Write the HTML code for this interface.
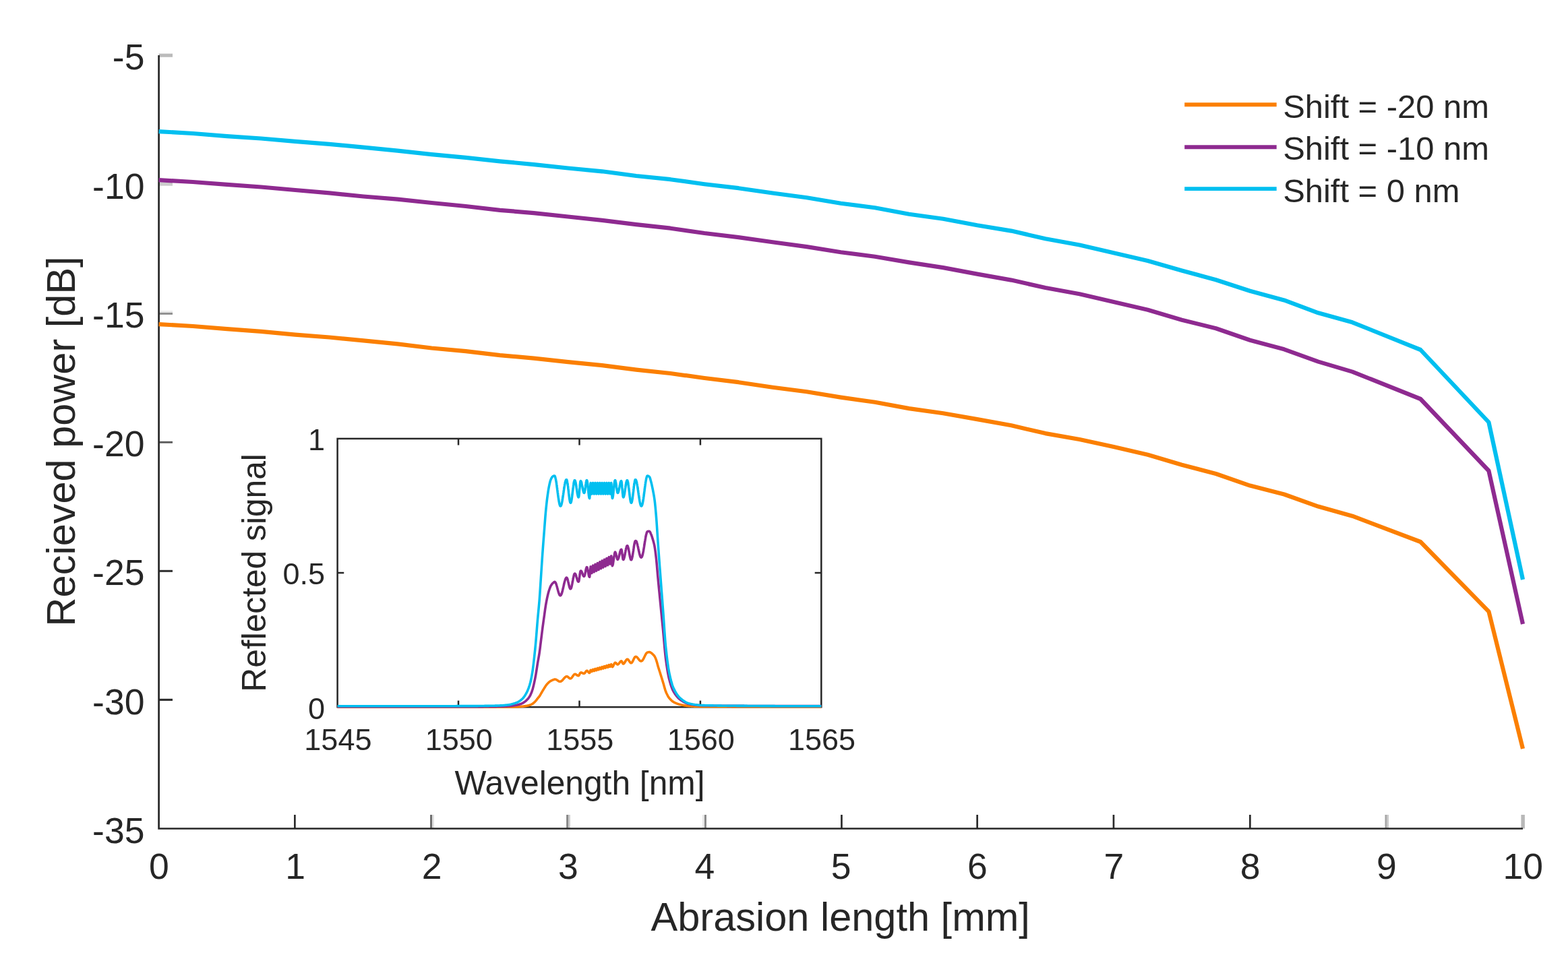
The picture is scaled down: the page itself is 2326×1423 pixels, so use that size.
<!DOCTYPE html>
<html><head><meta charset="utf-8"><title>Recieved power vs abrasion length</title>
<style>html,body{margin:0;padding:0;background:#fff;}svg{display:block;}</style>
</head><body>
<svg width="2326" height="1423" viewBox="0 0 2326 1423" font-family="'Liberation Sans', sans-serif">
<rect width="2326" height="1423" fill="#ffffff"/>
<rect x="436.0" y="1209.0" width="2.7" height="20.5" fill="#2b2b2b"/>
<rect x="638.0" y="1209.0" width="3.0" height="20.5" fill="#707070"/>
<rect x="641.0" y="1209.0" width="2.9" height="20.5" fill="#e0e0e0"/>
<rect x="840.1" y="1209.0" width="2.9" height="20.5" fill="#888888"/>
<rect x="843.0" y="1209.0" width="2.9" height="20.5" fill="#cccccc"/>
<rect x="1042.0" y="1209.0" width="3.0" height="20.5" fill="#e6e6e6"/>
<rect x="1045.0" y="1209.0" width="2.9" height="20.5" fill="#888888"/>
<rect x="1247.1" y="1209.0" width="2.7" height="20.5" fill="#2b2b2b"/>
<rect x="1448.3" y="1209.0" width="2.7" height="20.5" fill="#2b2b2b"/>
<rect x="1650.6" y="1209.0" width="2.7" height="20.5" fill="#2b2b2b"/>
<rect x="1853.0" y="1209.0" width="2.7" height="20.5" fill="#2b2b2b"/>
<rect x="2054.5" y="1209.0" width="2.7" height="20.5" fill="#a5a5a5"/>
<rect x="2057.2" y="1209.0" width="2.7" height="20.5" fill="#c5c5c5"/>
<rect x="2256.4" y="1209.0" width="5.5" height="20.5" fill="#b8b8b8"/>
<rect x="235.6" y="79.6" width="20.4" height="5.1" fill="#bbbbbb"/>
<rect x="235.6" y="270.4" width="20.4" height="5.3" fill="#cccccc"/>
<rect x="235.6" y="461.0" width="20.4" height="2.9" fill="#ebebeb"/>
<rect x="235.6" y="463.9" width="20.4" height="3.0" fill="#909090"/>
<rect x="235.6" y="654.8" width="20.4" height="2.9" fill="#5a5a5a"/>
<rect x="235.6" y="845.8" width="20.4" height="3.0" fill="#2e2e2e"/>
<rect x="235.6" y="1036.8" width="20.4" height="3.1" fill="#2a2a2a"/>
<path d="M235.6,82.1 L235.6,1229.5 L2259.0,1229.5" fill="none" stroke="#262626" stroke-width="2.7" stroke-linecap="butt" stroke-linejoin="miter"/>
<g fill="#262626" font-size="53.5" text-anchor="middle">
<text x="235.9" y="1303.8">0</text>
<text x="438.2" y="1303.8">1</text>
<text x="640.6" y="1303.8">2</text>
<text x="842.9" y="1303.8">3</text>
<text x="1045.3" y="1303.8">4</text>
<text x="1247.6" y="1303.8">5</text>
<text x="1449.9" y="1303.8">6</text>
<text x="1652.3" y="1303.8">7</text>
<text x="1854.6" y="1303.8">8</text>
<text x="2057.0" y="1303.8">9</text>
<text x="2259.3" y="1303.8">10</text>
</g>
<g fill="#262626" font-size="53.5" text-anchor="end">
<text x="214.4" y="1250.8">-35</text>
<text x="214.4" y="1059.6">-30</text>
<text x="214.4" y="868.3">-25</text>
<text x="214.4" y="677.1">-20</text>
<text x="214.4" y="485.9">-15</text>
<text x="214.4" y="294.6">-10</text>
<text x="214.4" y="103.4">-5</text>
</g>
<text x="1246.7" y="1380.5" fill="#262626" font-size="59.5" text-anchor="middle">Abrasion length [mm]</text>
<text transform="translate(110.6,654.9) rotate(-90)" fill="#262626" font-size="59.5" text-anchor="middle">Recieved power [dB]</text>
<g fill="none" stroke-width="6.2" stroke-linejoin="round" stroke-linecap="butt">
<polyline points="235.6,481.1 286.2,484.0 336.8,488.2 387.4,491.8 437.9,496.6 488.5,500.5 539.1,505.4 589.7,510.4 640.3,516.5 690.9,521.2 741.5,527.1 792.0,531.6 842.6,537.1 893.2,542.1 943.8,548.6 994.4,554.0 1045.0,561.0 1095.5,567.2 1146.1,574.8 1196.7,581.3 1247.3,589.6 1297.9,596.8 1348.5,606.1 1399.1,613.2 1449.6,622.1 1500.2,631.3 1550.8,643.1 1601.4,652.0 1652.0,663.0 1702.6,674.8 1753.1,689.7 1803.7,703.0 1854.3,720.6 1904.9,733.5 1955.5,751.6 2006.1,765.7 2107.2,804.0 2208.4,907.3 2259.0,1111.0" stroke="#FB7F00"/>
<polyline points="235.6,267.2 286.2,270.0 336.8,273.8 387.4,277.5 437.9,282.0 488.5,286.4 539.1,291.5 589.7,295.6 640.3,301.0 690.9,306.0 741.5,311.8 792.0,316.1 842.6,321.5 893.2,326.8 943.8,333.2 994.4,338.7 1045.0,346.0 1095.5,352.1 1146.1,359.3 1196.7,366.1 1247.3,374.2 1297.9,380.7 1348.5,389.4 1399.1,397.1 1449.6,406.6 1500.2,415.6 1550.8,427.0 1601.4,436.2 1652.0,448.0 1702.6,459.8 1753.1,474.7 1803.7,487.3 1854.3,504.8 1904.9,518.3 1955.5,536.6 2006.1,551.6 2107.2,592.0 2208.4,698.5 2259.0,926.0" stroke="#8E2A90"/>
<polyline points="235.6,195.1 286.2,198.0 336.8,202.1 387.4,205.5 437.9,209.9 488.5,213.8 539.1,218.7 589.7,223.6 640.3,229.1 690.9,233.9 741.5,239.3 792.0,244.1 842.6,249.5 893.2,254.3 943.8,261.0 994.4,266.2 1045.0,273.2 1095.5,279.2 1146.1,286.5 1196.7,293.2 1247.3,301.8 1297.9,308.3 1348.5,317.7 1399.1,324.7 1449.6,334.3 1500.2,342.6 1550.8,354.2 1601.4,363.5 1652.0,375.2 1702.6,387.0 1753.1,401.6 1803.7,415.2 1854.3,431.7 1904.9,445.4 1955.5,464.3 2006.1,478.3 2107.2,519.0 2208.4,626.5 2259.0,860.0" stroke="#00BFF0"/>
</g>
<line x1="1757.2" y1="155.2" x2="1893.7" y2="155.2" stroke="#FB7F00" stroke-width="5.9"/>
<line x1="1757.2" y1="218.2" x2="1893.7" y2="218.2" stroke="#8E2A90" stroke-width="5.9"/>
<line x1="1757.2" y1="280.1" x2="1893.7" y2="280.1" stroke="#00BFF0" stroke-width="5.9"/>
<g fill="#262626" font-size="48.9">
<text x="1903.2" y="174.8">Shift = -20 nm</text>
<text x="1903.2" y="237.2">Shift = -10 nm</text>
<text x="1903.2" y="299.5">Shift = 0 nm</text>
</g>
<rect x="500.6" y="650.9" width="717.7" height="398.3" fill="#ffffff"/>
<line x1="680.0" y1="1049.2" x2="680.0" y2="1039.6" stroke="#262626" stroke-width="2.5"/>
<line x1="680.0" y1="650.9" x2="680.0" y2="660.5" stroke="#262626" stroke-width="2.5"/>
<line x1="859.5" y1="1049.2" x2="859.5" y2="1039.6" stroke="#262626" stroke-width="2.5"/>
<line x1="859.5" y1="650.9" x2="859.5" y2="660.5" stroke="#262626" stroke-width="2.5"/>
<line x1="1038.9" y1="1049.2" x2="1038.9" y2="1039.6" stroke="#262626" stroke-width="2.5"/>
<line x1="1038.9" y1="650.9" x2="1038.9" y2="660.5" stroke="#262626" stroke-width="2.5"/>
<line x1="500.6" y1="850.0" x2="510.2" y2="850.0" stroke="#262626" stroke-width="2.5"/>
<line x1="1218.3" y1="850.0" x2="1208.7" y2="850.0" stroke="#262626" stroke-width="2.5"/>
<rect x="500.6" y="650.9" width="717.7" height="398.3" fill="none" stroke="#262626" stroke-width="2.5"/>
<g fill="none" stroke-width="3.6" stroke-linejoin="round">
<path d="M500.6,1049.0 L501.1,1049.0 L501.6,1049.0 L502.1,1049.0 L502.6,1049.0 L503.1,1049.0 L503.6,1049.0 L504.1,1049.0 L504.6,1049.0 L505.1,1049.0 L505.6,1049.0 L506.1,1049.0 L506.6,1049.0 L507.1,1049.0 L507.6,1049.0 L508.1,1049.0 L508.6,1049.0 L509.1,1049.0 L509.6,1049.0 L510.1,1049.0 L510.6,1049.0 L511.1,1049.0 L511.6,1049.0 L512.1,1049.0 L512.6,1049.0 L513.1,1049.0 L513.6,1049.0 L514.1,1049.0 L514.6,1049.0 L515.1,1049.0 L515.6,1049.0 L516.1,1049.0 L516.6,1049.0 L517.1,1049.0 L517.6,1049.0 L518.1,1049.0 L518.6,1049.0 L519.1,1049.0 L519.6,1049.0 L520.1,1049.0 L520.6,1049.0 L521.1,1049.0 L521.6,1049.0 L522.1,1049.0 L522.6,1049.0 L523.1,1049.0 L523.6,1049.0 L524.1,1049.0 L524.6,1049.0 L525.1,1049.0 L525.6,1049.0 L526.1,1049.0 L526.6,1049.0 L527.1,1049.0 L527.6,1049.0 L528.1,1049.0 L528.6,1049.0 L529.1,1049.0 L529.6,1049.0 L530.1,1049.0 L530.6,1049.0 L531.1,1049.0 L531.6,1049.0 L532.1,1049.0 L532.6,1049.0 L533.1,1049.0 L533.6,1049.0 L534.1,1049.0 L534.6,1049.0 L535.1,1049.0 L535.6,1049.0 L536.1,1049.0 L536.6,1049.0 L537.1,1049.0 L537.6,1049.0 L538.1,1049.0 L538.6,1049.0 L539.1,1049.0 L539.6,1049.0 L540.1,1049.0 L540.6,1049.0 L541.1,1049.0 L541.6,1049.0 L542.1,1049.0 L542.6,1049.0 L543.1,1049.0 L543.6,1049.0 L544.1,1049.0 L544.6,1049.0 L545.1,1049.0 L545.6,1049.0 L546.1,1049.0 L546.6,1049.0 L547.1,1049.0 L547.6,1049.0 L548.1,1049.0 L548.6,1049.0 L549.1,1049.0 L549.6,1049.0 L550.1,1049.0 L550.6,1049.0 L551.1,1049.0 L551.6,1049.0 L552.1,1049.0 L552.6,1049.0 L553.1,1049.0 L553.6,1049.0 L554.1,1049.0 L554.6,1049.0 L555.1,1049.0 L555.6,1049.0 L556.1,1049.0 L556.6,1049.0 L557.1,1049.0 L557.6,1049.0 L558.1,1049.0 L558.6,1049.0 L559.1,1049.0 L559.6,1049.0 L560.1,1049.0 L560.6,1049.0 L561.1,1049.0 L561.6,1049.0 L562.1,1049.0 L562.6,1049.0 L563.1,1049.0 L563.6,1049.0 L564.1,1049.0 L564.6,1049.0 L565.1,1049.0 L565.6,1049.0 L566.1,1049.0 L566.6,1049.0 L567.1,1049.0 L567.6,1049.0 L568.1,1049.0 L568.6,1049.0 L569.1,1049.0 L569.6,1049.0 L570.1,1049.0 L570.6,1049.0 L571.1,1049.0 L571.6,1049.0 L572.1,1049.0 L572.6,1049.0 L573.1,1049.0 L573.6,1049.0 L574.1,1049.0 L574.6,1049.0 L575.1,1049.0 L575.6,1049.0 L576.1,1049.0 L576.6,1049.0 L577.1,1049.0 L577.6,1049.0 L578.1,1049.0 L578.6,1049.0 L579.1,1049.0 L579.6,1049.0 L580.1,1049.0 L580.6,1049.0 L581.1,1049.0 L581.6,1049.0 L582.1,1049.0 L582.6,1049.0 L583.1,1049.0 L583.6,1049.0 L584.1,1049.0 L584.6,1049.0 L585.1,1049.0 L585.6,1049.0 L586.1,1049.0 L586.6,1049.0 L587.1,1049.0 L587.6,1049.0 L588.1,1049.0 L588.6,1049.0 L589.1,1049.0 L589.6,1049.0 L590.1,1049.0 L590.6,1049.0 L591.1,1049.0 L591.6,1049.0 L592.1,1049.0 L592.6,1049.0 L593.1,1049.0 L593.6,1049.0 L594.1,1049.0 L594.6,1049.0 L595.1,1049.0 L595.6,1049.0 L596.1,1049.0 L596.6,1049.0 L597.1,1049.0 L597.6,1049.0 L598.1,1049.0 L598.6,1049.0 L599.1,1049.0 L599.6,1049.0 L600.1,1049.0 L600.6,1049.0 L601.1,1049.0 L601.6,1049.0 L602.1,1049.0 L602.6,1049.0 L603.1,1049.0 L603.6,1049.0 L604.1,1049.0 L604.6,1049.0 L605.1,1049.0 L605.6,1049.0 L606.1,1049.0 L606.6,1049.0 L607.1,1049.0 L607.6,1049.0 L608.1,1049.0 L608.6,1049.0 L609.1,1049.0 L609.6,1049.0 L610.1,1049.0 L610.6,1049.0 L611.1,1049.0 L611.6,1049.0 L612.1,1049.0 L612.6,1049.0 L613.1,1049.0 L613.6,1049.0 L614.1,1049.0 L614.6,1049.0 L615.1,1049.0 L615.6,1049.0 L616.1,1049.0 L616.6,1049.0 L617.1,1049.0 L617.6,1049.0 L618.1,1049.0 L618.6,1049.0 L619.1,1049.0 L619.6,1049.0 L620.1,1049.0 L620.6,1049.0 L621.1,1049.0 L621.6,1049.0 L622.1,1049.0 L622.6,1049.0 L623.1,1049.0 L623.6,1049.0 L624.1,1049.0 L624.6,1049.0 L625.1,1049.0 L625.6,1049.0 L626.1,1049.0 L626.6,1049.0 L627.1,1049.0 L627.6,1049.0 L628.1,1049.0 L628.6,1049.0 L629.1,1049.0 L629.6,1049.0 L630.1,1049.0 L630.6,1049.0 L631.1,1049.0 L631.6,1049.0 L632.1,1049.0 L632.6,1049.0 L633.1,1049.0 L633.6,1049.0 L634.1,1049.0 L634.6,1049.0 L635.1,1049.0 L635.6,1049.0 L636.1,1049.0 L636.6,1049.0 L637.1,1049.0 L637.6,1049.0 L638.1,1049.0 L638.6,1049.0 L639.1,1049.0 L639.6,1049.0 L640.1,1049.0 L640.6,1049.0 L641.1,1049.0 L641.6,1049.0 L642.1,1049.0 L642.6,1049.0 L643.1,1049.0 L643.6,1049.0 L644.1,1049.0 L644.6,1049.0 L645.1,1049.0 L645.6,1049.0 L646.1,1049.0 L646.6,1049.0 L647.1,1049.0 L647.6,1049.0 L648.1,1049.0 L648.6,1049.0 L649.1,1049.0 L649.6,1049.0 L650.1,1049.0 L650.6,1049.0 L651.1,1049.0 L651.6,1049.0 L652.1,1049.0 L652.6,1049.0 L653.1,1049.0 L653.6,1049.0 L654.1,1049.0 L654.6,1049.0 L655.1,1049.0 L655.6,1049.0 L656.1,1049.0 L656.6,1049.0 L657.1,1049.0 L657.6,1049.0 L658.1,1049.0 L658.6,1049.0 L659.1,1049.0 L659.6,1049.0 L660.1,1049.0 L660.6,1049.0 L661.1,1049.0 L661.6,1049.0 L662.1,1049.0 L662.6,1049.0 L663.1,1049.0 L663.6,1049.0 L664.1,1049.0 L664.6,1049.0 L665.1,1049.0 L665.6,1049.0 L666.1,1049.0 L666.6,1049.0 L667.1,1049.0 L667.6,1049.0 L668.1,1049.0 L668.6,1049.0 L669.1,1049.0 L669.6,1049.0 L670.1,1049.0 L670.6,1049.0 L671.1,1049.0 L671.6,1049.0 L672.1,1049.0 L672.6,1049.0 L673.1,1049.0 L673.6,1049.0 L674.1,1049.0 L674.6,1049.0 L675.1,1049.0 L675.6,1049.0 L676.1,1049.0 L676.6,1049.0 L677.1,1049.0 L677.6,1049.0 L678.1,1049.0 L678.6,1049.0 L679.1,1049.0 L679.6,1049.0 L680.1,1049.0 L680.6,1049.0 L681.1,1049.0 L681.6,1049.0 L682.1,1049.0 L682.6,1049.0 L683.1,1049.0 L683.6,1049.0 L684.1,1049.0 L684.6,1049.0 L685.1,1049.0 L685.6,1049.0 L686.1,1049.0 L686.6,1049.0 L687.1,1049.0 L687.6,1049.0 L688.1,1049.0 L688.6,1049.0 L689.1,1049.0 L689.6,1049.0 L690.1,1049.0 L690.6,1049.0 L691.1,1049.0 L691.6,1049.0 L692.1,1049.0 L692.6,1049.0 L693.1,1049.0 L693.6,1049.0 L694.1,1049.0 L694.6,1049.0 L695.1,1049.0 L695.6,1049.0 L696.1,1049.0 L696.6,1049.0 L697.1,1049.0 L697.6,1049.0 L698.1,1049.0 L698.6,1049.0 L699.1,1049.0 L699.6,1049.0 L700.1,1049.0 L700.6,1049.0 L701.1,1049.0 L701.6,1049.0 L702.1,1049.0 L702.6,1049.0 L703.1,1049.0 L703.6,1049.0 L704.1,1049.0 L704.6,1049.0 L705.1,1049.0 L705.6,1049.0 L706.1,1049.0 L706.6,1049.0 L707.1,1049.0 L707.6,1049.0 L708.1,1049.0 L708.6,1049.0 L709.1,1049.0 L709.6,1049.0 L710.1,1049.0 L710.6,1049.0 L711.1,1049.0 L711.6,1049.0 L712.1,1049.0 L712.6,1049.0 L713.1,1049.0 L713.6,1049.0 L714.1,1049.0 L714.6,1049.0 L715.1,1049.0 L715.6,1049.0 L716.1,1049.0 L716.6,1049.0 L717.1,1049.0 L717.6,1049.0 L718.1,1049.0 L718.6,1049.0 L719.1,1049.0 L719.6,1049.0 L720.1,1049.0 L720.6,1049.0 L721.1,1049.0 L721.6,1049.0 L722.1,1049.0 L722.6,1049.0 L723.1,1049.0 L723.6,1049.0 L724.1,1049.0 L724.6,1049.0 L725.1,1049.0 L725.6,1049.0 L726.1,1049.0 L726.6,1049.0 L727.1,1049.0 L727.6,1049.0 L728.1,1049.0 L728.6,1049.0 L729.1,1049.0 L729.6,1049.0 L730.1,1049.0 L730.6,1049.0 L731.1,1049.0 L731.6,1049.0 L732.1,1049.0 L732.6,1049.0 L733.1,1049.0 L733.6,1049.0 L734.1,1049.0 L734.6,1049.0 L735.1,1049.0 L735.6,1049.0 L736.1,1049.0 L736.6,1049.0 L737.1,1049.0 L737.6,1049.0 L738.1,1049.0 L738.6,1049.0 L739.1,1049.0 L739.6,1049.0 L740.1,1049.0 L740.6,1049.0 L741.1,1049.0 L741.6,1049.0 L742.1,1049.0 L742.6,1049.0 L743.1,1049.0 L743.6,1049.0 L744.1,1049.0 L744.6,1049.0 L745.1,1049.0 L745.6,1049.0 L746.1,1049.0 L746.6,1049.0 L747.1,1049.0 L747.6,1049.0 L748.1,1049.0 L748.6,1049.0 L749.1,1049.0 L749.6,1049.0 L750.1,1049.0 L750.6,1049.0 L751.1,1049.0 L751.6,1049.0 L752.1,1049.0 L752.6,1049.0 L753.1,1049.0 L753.6,1049.0 L754.1,1049.0 L754.6,1049.0 L755.1,1049.0 L755.6,1049.0 L756.1,1049.0 L756.6,1049.0 L757.1,1049.0 L757.6,1048.9 L758.1,1048.9 L758.6,1048.9 L759.1,1048.9 L759.6,1048.9 L760.1,1048.9 L760.6,1048.9 L761.1,1048.9 L761.6,1048.9 L762.1,1048.8 L762.6,1048.8 L763.1,1048.8 L763.6,1048.8 L764.1,1048.8 L764.6,1048.8 L765.1,1048.8 L765.6,1048.7 L766.1,1048.7 L766.6,1048.7 L767.1,1048.7 L767.6,1048.7 L768.1,1048.7 L768.6,1048.6 L769.1,1048.6 L769.6,1048.6 L770.1,1048.6 L770.6,1048.5 L771.1,1048.5 L771.6,1048.5 L772.1,1048.4 L772.6,1048.4 L773.1,1048.4 L773.6,1048.3 L774.1,1048.3 L774.6,1048.3 L775.1,1048.2 L775.6,1048.2 L776.1,1048.1 L776.6,1048.1 L777.1,1048.0 L777.6,1047.9 L778.1,1047.9 L778.6,1047.8 L779.1,1047.7 L779.6,1047.6 L780.1,1047.6 L780.6,1047.5 L781.1,1047.4 L781.6,1047.3 L782.1,1047.2 L782.6,1047.1 L783.1,1047.0 L783.6,1046.9 L784.1,1046.8 L784.6,1046.6 L785.1,1046.5 L785.6,1046.3 L786.1,1046.2 L786.6,1046.0 L787.1,1045.8 L787.6,1045.6 L788.1,1045.3 L788.6,1045.1 L789.1,1044.8 L789.6,1044.5 L790.1,1044.2 L790.6,1043.9 L791.1,1043.5 L791.6,1043.0 L792.1,1042.6 L792.6,1042.2 L793.1,1041.7 L793.6,1041.2 L794.1,1040.7 L794.6,1040.1 L795.1,1039.6 L795.6,1038.9 L796.1,1038.3 L796.6,1037.6 L797.1,1036.9 L797.6,1036.3 L798.1,1035.7 L798.6,1035.1 L799.1,1034.6 L799.6,1034.0 L800.1,1033.3 L800.6,1032.6 L801.1,1031.7 L801.6,1030.9 L802.1,1030.0 L802.6,1029.1 L803.1,1028.3 L803.6,1027.4 L804.1,1026.5 L804.6,1025.7 L805.1,1024.8 L805.6,1024.0 L806.1,1023.2 L806.6,1022.4 L807.1,1021.6 L807.6,1020.8 L808.1,1020.0 L808.6,1019.2 L809.1,1018.4 L809.6,1017.6 L810.1,1016.9 L810.6,1016.3 L811.1,1015.7 L811.6,1015.1 L812.1,1014.5 L812.6,1014.0 L813.1,1013.5 L813.6,1013.0 L814.1,1012.5 L814.6,1012.1 L815.1,1011.7 L815.6,1011.3 L816.1,1011.0 L816.6,1010.6 L817.1,1010.3 L817.6,1010.1 L818.1,1009.8 L818.6,1009.6 L819.1,1009.3 L819.6,1009.1 L820.1,1008.9 L820.6,1008.8 L821.1,1008.6 L821.6,1008.4 L822.1,1008.2 L822.5,1008.1 L822.7,1008.1 L823.0,1008.0 L823.2,1008.0 L823.5,1008.0 L823.7,1008.0 L824.0,1008.1 L824.2,1008.1 L824.5,1008.2 L824.7,1008.3 L825.0,1008.4 L825.2,1008.5 L825.5,1008.6 L825.7,1008.8 L826.0,1008.9 L826.2,1009.1 L826.5,1009.3 L826.7,1009.4 L827.0,1009.6 L827.2,1009.8 L827.5,1010.0 L827.7,1010.1 L828.0,1010.3 L828.2,1010.5 L828.5,1010.6 L828.7,1010.8 L829.0,1010.9 L829.2,1011.0 L829.5,1011.1 L829.7,1011.2 L830.0,1011.3 L830.2,1011.3 L830.5,1011.3 L830.7,1011.3 L831.0,1011.3 L831.2,1011.3 L831.5,1011.3 L831.7,1011.2 L832.0,1011.1 L832.2,1011.0 L832.5,1010.8 L832.7,1010.7 L833.0,1010.5 L833.2,1010.3 L833.5,1010.1 L833.7,1009.9 L834.0,1009.7 L834.2,1009.4 L834.5,1009.2 L834.7,1008.9 L835.0,1008.6 L835.2,1008.3 L835.5,1008.0 L835.7,1007.7 L836.0,1007.4 L836.2,1007.1 L836.5,1006.8 L836.7,1006.5 L837.0,1006.3 L837.2,1006.0 L837.5,1005.7 L837.7,1005.4 L838.0,1005.2 L838.2,1005.0 L838.5,1004.7 L838.7,1004.5 L839.0,1004.4 L839.2,1004.2 L839.5,1004.1 L839.7,1003.9 L840.0,1003.8 L840.2,1003.7 L840.5,1003.7 L840.8,1003.7 L841.0,1003.7 L841.3,1003.8 L841.5,1003.9 L841.8,1004.0 L842.1,1004.1 L842.3,1004.3 L842.6,1004.5 L842.8,1004.8 L843.1,1005.0 L843.4,1005.2 L843.6,1005.5 L843.9,1005.7 L844.1,1005.9 L844.4,1006.1 L844.6,1006.3 L844.9,1006.5 L845.2,1006.6 L845.4,1006.7 L845.7,1006.8 L845.9,1006.9 L846.2,1006.8 L846.5,1006.8 L846.7,1006.7 L847.0,1006.6 L847.2,1006.4 L847.5,1006.2 L847.7,1006.0 L848.0,1005.7 L848.2,1005.4 L848.5,1005.1 L848.7,1004.7 L849.0,1004.4 L849.2,1004.0 L849.5,1003.6 L849.8,1003.3 L850.0,1002.9 L850.3,1002.5 L850.5,1002.2 L850.8,1001.8 L851.0,1001.5 L851.3,1001.2 L851.5,1001.0 L851.8,1000.8 L852.0,1000.6 L852.3,1000.5 L852.6,1000.4 L852.8,1000.3 L853.1,1000.3 L853.3,1000.3 L853.6,1000.4 L853.8,1000.5 L854.1,1000.6 L854.4,1000.7 L854.6,1000.9 L854.9,1001.0 L855.1,1001.2 L855.4,1001.4 L855.7,1001.6 L855.9,1001.8 L856.2,1002.0 L856.4,1002.2 L856.7,1002.3 L857.0,1002.4 L857.2,1002.5 L857.5,1002.6 L857.7,1002.6 L858.0,1002.6 L858.2,1002.5 L858.5,1002.4 L858.8,1002.2 L859.0,1001.8 L859.3,1001.3 L859.5,1000.8 L859.8,1000.3 L860.1,999.7 L860.3,999.2 L860.6,998.8 L860.8,998.4 L861.1,998.2 L861.4,998.0 L861.6,998.0 L861.9,997.9 L862.1,998.0 L862.4,998.0 L862.7,998.1 L862.9,998.1 L863.2,998.3 L863.4,998.4 L863.7,998.5 L864.0,998.7 L864.2,998.8 L864.5,998.9 L864.7,999.1 L865.0,999.2 L865.2,999.3 L865.5,999.4 L865.8,999.4 L866.0,999.4 L866.3,999.4 L866.6,999.3 L866.8,999.2 L867.1,999.1 L867.3,998.8 L867.6,998.6 L867.9,998.2 L868.1,997.9 L868.4,997.5 L868.6,997.1 L868.9,996.7 L869.2,996.4 L869.4,996.1 L869.7,995.8 L869.9,995.5 L870.2,995.4 L870.5,995.3 L870.7,995.2 L871.0,995.3 L871.2,995.4 L871.5,995.6 L871.7,995.9 L872.0,996.2 L872.2,996.5 L872.5,996.9 L872.8,997.2 L873.0,997.6 L873.3,997.9 L873.5,998.1 L873.8,998.3 L874.0,998.5 L874.3,998.5 L874.6,998.5 L874.8,998.2 L875.1,997.4 L875.4,996.4 L875.7,995.4 L876.0,994.6 L876.2,994.3 L876.5,994.4 L876.8,994.8 L877.1,995.4 L877.4,996.0 L877.6,996.4 L877.9,996.5 L878.2,996.3 L878.5,995.7 L878.8,994.9 L879.1,994.2 L879.3,993.6 L879.6,993.3 L879.9,993.4 L880.2,993.8 L880.5,994.5 L880.7,995.1 L881.0,995.5 L881.3,995.6 L881.6,995.4 L881.9,994.8 L882.2,994.0 L882.4,993.2 L882.7,992.6 L883.0,992.4 L883.3,992.5 L883.6,992.9 L883.8,993.5 L884.1,994.2 L884.4,994.6 L884.7,994.7 L885.0,994.5 L885.3,993.9 L885.5,993.1 L885.8,992.3 L886.1,991.7 L886.4,991.4 L886.7,991.5 L886.9,992.0 L887.2,992.6 L887.5,993.3 L887.8,993.7 L888.1,993.8 L888.4,993.6 L888.6,992.9 L888.9,992.1 L889.2,991.3 L889.5,990.7 L889.8,990.5 L890.0,990.6 L890.3,991.0 L890.6,991.7 L890.9,992.3 L891.2,992.8 L891.5,992.9 L891.7,992.6 L892.0,992.0 L892.3,991.2 L892.6,990.4 L892.9,989.8 L893.1,989.5 L893.4,989.6 L893.7,990.1 L894.0,990.8 L894.3,991.4 L894.5,991.9 L894.8,992.0 L895.1,991.7 L895.4,991.1 L895.7,990.3 L896.0,989.5 L896.2,988.8 L896.5,988.6 L896.8,988.7 L897.1,989.1 L897.4,989.8 L897.6,990.5 L897.9,991.0 L898.2,991.1 L898.5,990.8 L898.8,990.2 L899.1,989.4 L899.3,988.5 L899.6,987.9 L899.9,987.6 L900.2,987.7 L900.5,988.2 L900.7,988.9 L901.0,989.6 L901.3,990.1 L901.6,990.2 L901.9,989.9 L902.2,989.3 L902.4,988.4 L902.7,987.6 L903.0,986.9 L903.3,986.6 L903.6,986.8 L903.8,987.3 L904.1,988.0 L904.4,988.7 L904.7,989.2 L905.0,989.3 L905.3,989.0 L905.5,988.4 L905.8,987.5 L906.1,986.6 L906.4,986.0 L906.7,985.7 L906.9,985.9 L907.2,986.6 L907.5,987.7 L907.8,988.7 L908.1,989.4 L908.4,989.6 L908.6,989.5 L908.9,989.3 L909.1,989.0 L909.4,988.6 L909.6,988.2 L909.9,987.6 L910.1,987.1 L910.4,986.5 L910.7,985.9 L910.9,985.4 L911.2,984.8 L911.4,984.4 L911.7,984.0 L911.9,983.7 L912.2,983.4 L912.5,983.3 L912.7,983.3 L913.0,983.3 L913.2,983.4 L913.5,983.6 L913.8,983.9 L914.0,984.1 L914.3,984.5 L914.5,984.8 L914.8,985.1 L915.1,985.4 L915.3,985.6 L915.6,985.8 L915.8,985.9 L916.1,986.0 L916.4,986.0 L916.6,985.9 L916.9,985.7 L917.1,985.6 L917.4,985.3 L917.7,985.1 L917.9,984.8 L918.2,984.5 L918.4,984.2 L918.7,983.8 L919.0,983.5 L919.2,983.1 L919.5,982.8 L919.7,982.4 L920.0,982.1 L920.2,981.8 L920.5,981.6 L920.8,981.4 L921.0,981.2 L921.3,981.0 L921.6,980.9 L921.8,980.9 L922.1,981.1 L922.3,981.4 L922.6,981.9 L922.8,982.4 L923.1,983.0 L923.4,983.5 L923.6,984.1 L923.9,984.5 L924.1,984.8 L924.4,985.0 L924.7,985.0 L924.9,985.0 L925.2,984.8 L925.4,984.6 L925.7,984.4 L925.9,984.1 L926.2,983.7 L926.5,983.4 L926.7,983.0 L927.0,982.5 L927.2,982.1 L927.5,981.7 L927.8,981.2 L928.0,980.8 L928.3,980.4 L928.5,980.0 L928.8,979.6 L929.1,979.2 L929.3,978.9 L929.6,978.7 L929.8,978.5 L930.1,978.3 L930.4,978.2 L930.6,978.2 L930.9,978.2 L931.1,978.3 L931.4,978.4 L931.6,978.6 L931.9,978.8 L932.1,979.1 L932.4,979.4 L932.6,979.8 L932.9,980.2 L933.1,980.5 L933.4,980.9 L933.7,981.3 L933.9,981.7 L934.2,982.1 L934.4,982.5 L934.7,982.8 L934.9,983.1 L935.2,983.3 L935.4,983.5 L935.7,983.7 L935.9,983.7 L936.2,983.8 L936.5,983.7 L936.7,983.6 L937.0,983.5 L937.2,983.2 L937.5,983.0 L937.7,982.6 L938.0,982.2 L938.3,981.8 L938.5,981.3 L938.8,980.8 L939.0,980.3 L939.3,979.7 L939.6,979.2 L939.8,978.6 L940.1,978.0 L940.3,977.5 L940.6,977.0 L940.8,976.5 L941.1,976.1 L941.4,975.7 L941.6,975.3 L941.9,975.0 L942.1,974.8 L942.4,974.6 L942.7,974.5 L942.9,974.5 L943.2,974.4 L943.4,974.4 L943.7,974.5 L943.9,974.6 L944.2,974.7 L944.4,974.8 L944.7,975.0 L944.9,975.2 L945.2,975.4 L945.4,975.7 L945.7,976.0 L945.9,976.2 L946.2,976.5 L946.4,976.9 L946.7,977.2 L946.9,977.5 L947.2,977.8 L947.4,978.2 L947.7,978.5 L947.9,978.8 L948.2,979.1 L948.4,979.4 L948.7,979.7 L948.9,979.9 L949.2,980.2 L949.4,980.4 L949.7,980.6 L949.9,980.7 L950.2,980.9 L950.4,981.0 L950.7,981.0 L950.9,981.0 L951.2,981.0 L951.5,981.0 L951.7,980.9 L952.0,980.8 L952.2,980.6 L952.5,980.4 L952.7,980.2 L953.0,979.9 L953.2,979.6 L953.5,979.3 L953.7,978.9 L954.0,978.5 L954.2,978.1 L954.5,977.6 L954.7,977.2 L955.0,976.7 L955.2,976.2 L955.5,975.7 L955.7,975.1 L956.0,974.6 L956.2,974.1 L956.5,973.6 L956.7,973.1 L957.0,972.5 L957.2,972.1 L957.5,971.6 L957.7,971.1 L958.0,970.7 L958.2,970.3 L958.5,969.9 L958.7,969.5 L959.0,969.2 L959.2,968.9 L959.5,968.7 L959.7,968.5 L960.0,968.3 L960.2,968.2 L960.5,968.1 L961.0,967.9 L961.5,967.8 L962.0,967.8 L962.5,967.7 L963.0,967.6 L963.5,967.6 L964.0,967.7 L964.5,967.9 L965.0,968.2 L965.5,968.5 L966.0,968.8 L966.5,969.2 L967.0,969.6 L967.5,970.0 L968.0,970.4 L968.5,970.9 L969.0,971.4 L969.5,971.9 L970.0,972.4 L970.5,973.1 L971.0,973.8 L971.5,974.7 L972.0,975.7 L972.5,976.9 L973.0,978.2 L973.5,979.5 L974.0,981.1 L974.5,982.8 L975.0,984.6 L975.5,986.4 L976.0,988.2 L976.5,989.9 L977.0,991.5 L977.5,993.1 L978.0,994.7 L978.5,996.3 L979.0,997.8 L979.5,999.4 L980.0,1001.0 L980.5,1002.6 L981.0,1004.2 L981.5,1005.8 L982.0,1007.4 L982.5,1009.0 L983.0,1010.6 L983.5,1012.2 L984.0,1013.9 L984.5,1015.6 L985.0,1017.5 L985.5,1019.3 L986.0,1021.1 L986.5,1022.8 L987.0,1024.4 L987.5,1025.8 L988.0,1027.0 L988.5,1028.2 L989.0,1029.3 L989.5,1030.3 L990.0,1031.3 L990.5,1032.3 L991.0,1033.2 L991.5,1034.0 L992.0,1034.8 L992.5,1035.5 L993.0,1036.1 L993.5,1036.7 L994.0,1037.3 L994.5,1037.8 L995.0,1038.3 L995.5,1038.8 L996.0,1039.3 L996.5,1039.8 L997.0,1040.2 L997.5,1040.6 L998.0,1040.9 L998.5,1041.3 L999.0,1041.6 L999.5,1041.8 L1000.0,1042.1 L1000.5,1042.4 L1001.0,1042.6 L1001.5,1042.9 L1002.0,1043.1 L1002.5,1043.3 L1003.0,1043.5 L1003.5,1043.7 L1004.0,1043.9 L1004.5,1044.1 L1005.0,1044.3 L1005.5,1044.5 L1006.0,1044.7 L1006.5,1044.8 L1007.0,1045.0 L1007.5,1045.1 L1008.0,1045.3 L1008.5,1045.4 L1009.0,1045.5 L1009.5,1045.6 L1010.0,1045.7 L1010.5,1045.9 L1011.0,1046.0 L1011.5,1046.1 L1012.0,1046.2 L1012.5,1046.3 L1013.0,1046.4 L1013.5,1046.5 L1014.0,1046.6 L1014.5,1046.7 L1015.0,1046.8 L1015.5,1046.9 L1016.0,1046.9 L1016.5,1047.0 L1017.0,1047.1 L1017.5,1047.2 L1018.0,1047.2 L1018.5,1047.3 L1019.0,1047.4 L1019.5,1047.4 L1020.0,1047.5 L1020.5,1047.5 L1021.0,1047.6 L1021.5,1047.6 L1022.0,1047.7 L1022.5,1047.7 L1023.0,1047.7 L1023.5,1047.8 L1024.0,1047.8 L1024.5,1047.8 L1025.0,1047.8 L1025.5,1047.9 L1026.0,1047.9 L1026.5,1047.9 L1027.0,1048.0 L1027.5,1048.0 L1028.0,1048.0 L1028.5,1048.0 L1029.0,1048.1 L1029.5,1048.1 L1030.0,1048.1 L1030.5,1048.1 L1031.0,1048.2 L1031.5,1048.2 L1032.0,1048.2 L1032.5,1048.2 L1033.0,1048.2 L1033.5,1048.2 L1034.0,1048.3 L1034.5,1048.3 L1035.0,1048.3 L1035.5,1048.3 L1036.0,1048.3 L1036.5,1048.3 L1037.0,1048.3 L1037.5,1048.3 L1038.0,1048.4 L1038.5,1048.4 L1039.0,1048.4 L1039.5,1048.4 L1040.0,1048.4 L1040.5,1048.4 L1041.0,1048.4 L1041.5,1048.4 L1042.0,1048.4 L1042.5,1048.4 L1043.0,1048.4 L1043.5,1048.4 L1044.0,1048.4 L1044.5,1048.4 L1045.0,1048.4 L1045.5,1048.4 L1046.0,1048.4 L1046.5,1048.4 L1047.0,1048.4 L1047.5,1048.4 L1048.0,1048.4 L1048.5,1048.4 L1049.0,1048.4 L1049.5,1048.4 L1050.0,1048.4 L1050.5,1048.4 L1051.0,1048.4 L1051.5,1048.5 L1052.0,1048.5 L1052.5,1048.5 L1053.0,1048.5 L1053.5,1048.5 L1054.0,1048.5 L1054.5,1048.5 L1055.0,1048.5 L1055.5,1048.5 L1056.0,1048.5 L1056.5,1048.5 L1057.0,1048.5 L1057.5,1048.5 L1058.0,1048.5 L1058.5,1048.5 L1059.0,1048.5 L1059.5,1048.5 L1060.0,1048.5 L1060.5,1048.5 L1061.0,1048.5 L1061.5,1048.5 L1062.0,1048.5 L1062.5,1048.5 L1063.0,1048.5 L1063.5,1048.5 L1064.0,1048.5 L1064.5,1048.5 L1065.0,1048.5 L1065.5,1048.5 L1066.0,1048.5 L1066.5,1048.5 L1067.0,1048.5 L1067.5,1048.5 L1068.0,1048.5 L1068.5,1048.5 L1069.0,1048.5 L1069.5,1048.5 L1070.0,1048.5 L1070.5,1048.5 L1071.0,1048.5 L1071.5,1048.5 L1072.0,1048.5 L1072.5,1048.5 L1073.0,1048.5 L1073.5,1048.5 L1074.0,1048.5 L1074.5,1048.5 L1075.0,1048.5 L1075.5,1048.5 L1076.0,1048.5 L1076.5,1048.5 L1077.0,1048.5 L1077.5,1048.5 L1078.0,1048.5 L1078.5,1048.5 L1079.0,1048.5 L1079.5,1048.5 L1080.0,1048.5 L1080.5,1048.5 L1081.0,1048.5 L1081.5,1048.5 L1082.0,1048.5 L1082.5,1048.5 L1083.0,1048.5 L1083.5,1048.5 L1084.0,1048.5 L1084.5,1048.5 L1085.0,1048.6 L1085.5,1048.6 L1086.0,1048.6 L1086.5,1048.6 L1087.0,1048.6 L1087.5,1048.6 L1088.0,1048.6 L1088.5,1048.6 L1089.0,1048.6 L1089.5,1048.6 L1090.0,1048.6 L1090.5,1048.6 L1091.0,1048.6 L1091.5,1048.6 L1092.0,1048.6 L1092.5,1048.6 L1093.0,1048.6 L1093.5,1048.6 L1094.0,1048.6 L1094.5,1048.6 L1095.0,1048.6 L1095.5,1048.6 L1096.0,1048.6 L1096.5,1048.6 L1097.0,1048.6 L1097.5,1048.6 L1098.0,1048.6 L1098.5,1048.6 L1099.0,1048.6 L1099.5,1048.6 L1100.0,1048.6 L1100.5,1048.6 L1101.0,1048.6 L1101.5,1048.6 L1102.0,1048.6 L1102.5,1048.6 L1103.0,1048.6 L1103.5,1048.6 L1104.0,1048.6 L1104.5,1048.6 L1105.0,1048.6 L1105.5,1048.6 L1106.0,1048.6 L1106.5,1048.6 L1107.0,1048.6 L1107.5,1048.6 L1108.0,1048.6 L1108.5,1048.6 L1109.0,1048.6 L1109.5,1048.6 L1110.0,1048.6 L1110.5,1048.6 L1111.0,1048.6 L1111.5,1048.6 L1112.0,1048.6 L1112.5,1048.6 L1113.0,1048.6 L1113.5,1048.6 L1114.0,1048.6 L1114.5,1048.6 L1115.0,1048.6 L1115.5,1048.6 L1116.0,1048.6 L1116.5,1048.6 L1117.0,1048.6 L1117.5,1048.6 L1118.0,1048.6 L1118.5,1048.6 L1119.0,1048.6 L1119.5,1048.6 L1120.0,1048.6 L1120.5,1048.6 L1121.0,1048.6 L1121.5,1048.6 L1122.0,1048.6 L1122.5,1048.6 L1123.0,1048.6 L1123.5,1048.6 L1124.0,1048.6 L1124.5,1048.6 L1125.0,1048.6 L1125.5,1048.6 L1126.0,1048.6 L1126.5,1048.6 L1127.0,1048.6 L1127.5,1048.6 L1128.0,1048.6 L1128.5,1048.6 L1129.0,1048.6 L1129.5,1048.6 L1130.0,1048.6 L1130.5,1048.6 L1131.0,1048.6 L1131.5,1048.6 L1132.0,1048.6 L1132.5,1048.6 L1133.0,1048.6 L1133.5,1048.6 L1134.0,1048.6 L1134.5,1048.6 L1135.0,1048.6 L1135.5,1048.6 L1136.0,1048.6 L1136.5,1048.6 L1137.0,1048.6 L1137.5,1048.6 L1138.0,1048.6 L1138.5,1048.6 L1139.0,1048.6 L1139.5,1048.6 L1140.0,1048.6 L1140.5,1048.6 L1141.0,1048.6 L1141.5,1048.6 L1142.0,1048.6 L1142.5,1048.6 L1143.0,1048.6 L1143.5,1048.6 L1144.0,1048.6 L1144.5,1048.6 L1145.0,1048.6 L1145.5,1048.6 L1146.0,1048.6 L1146.5,1048.6 L1147.0,1048.6 L1147.5,1048.6 L1148.0,1048.6 L1148.5,1048.6 L1149.0,1048.6 L1149.5,1048.6 L1150.0,1048.6 L1150.5,1048.6 L1151.0,1048.6 L1151.5,1048.6 L1152.0,1048.6 L1152.5,1048.6 L1153.0,1048.6 L1153.5,1048.6 L1154.0,1048.6 L1154.5,1048.6 L1155.0,1048.6 L1155.5,1048.6 L1156.0,1048.6 L1156.5,1048.6 L1157.0,1048.6 L1157.5,1048.6 L1158.0,1048.6 L1158.5,1048.6 L1159.0,1048.6 L1159.5,1048.6 L1160.0,1048.6 L1160.5,1048.6 L1161.0,1048.6 L1161.5,1048.6 L1162.0,1048.6 L1162.5,1048.6 L1163.0,1048.6 L1163.5,1048.6 L1164.0,1048.6 L1164.5,1048.6 L1165.0,1048.6 L1165.5,1048.6 L1166.0,1048.6 L1166.5,1048.6 L1167.0,1048.6 L1167.5,1048.6 L1168.0,1048.6 L1168.5,1048.6 L1169.0,1048.6 L1169.5,1048.6 L1170.0,1048.6 L1170.5,1048.6 L1171.0,1048.6 L1171.5,1048.6 L1172.0,1048.6 L1172.5,1048.6 L1173.0,1048.6 L1173.5,1048.6 L1174.0,1048.6 L1174.5,1048.6 L1175.0,1048.6 L1175.5,1048.6 L1176.0,1048.6 L1176.5,1048.6 L1177.0,1048.6 L1177.5,1048.6 L1178.0,1048.6 L1178.5,1048.6 L1179.0,1048.6 L1179.5,1048.6 L1180.0,1048.6 L1180.5,1048.6 L1181.0,1048.6 L1181.5,1048.6 L1182.0,1048.6 L1182.5,1048.6 L1183.0,1048.6 L1183.5,1048.6 L1184.0,1048.6 L1184.5,1048.6 L1185.0,1048.6 L1185.5,1048.6 L1186.0,1048.6 L1186.5,1048.6 L1187.0,1048.6 L1187.5,1048.6 L1188.0,1048.6 L1188.5,1048.6 L1189.0,1048.6 L1189.5,1048.6 L1190.0,1048.6 L1190.5,1048.6 L1191.0,1048.6 L1191.5,1048.6 L1192.0,1048.6 L1192.5,1048.6 L1193.0,1048.6 L1193.5,1048.6 L1194.0,1048.6 L1194.5,1048.6 L1195.0,1048.6 L1195.5,1048.6 L1196.0,1048.6 L1196.5,1048.6 L1197.0,1048.6 L1197.5,1048.6 L1198.0,1048.6 L1198.5,1048.6 L1199.0,1048.6 L1199.5,1048.6 L1200.0,1048.6 L1200.5,1048.6 L1201.0,1048.6 L1201.5,1048.6 L1202.0,1048.6 L1202.5,1048.6 L1203.0,1048.6 L1203.5,1048.6 L1204.0,1048.6 L1204.5,1048.6 L1205.0,1048.6 L1205.5,1048.6 L1206.0,1048.6 L1206.5,1048.6 L1207.0,1048.6 L1207.5,1048.6 L1208.0,1048.6 L1208.5,1048.6 L1209.0,1048.6 L1209.5,1048.6 L1210.0,1048.6 L1210.5,1048.6 L1211.0,1048.6 L1211.5,1048.6 L1212.0,1048.6 L1212.5,1048.6 L1213.0,1048.6 L1213.5,1048.6 L1214.0,1048.6 L1214.5,1048.6 L1215.0,1048.6 L1215.5,1048.6 L1216.0,1048.6 L1216.5,1048.6 L1217.0,1048.6 L1217.5,1048.6 L1218.0,1048.6 L1218.3,1048.6" stroke="#FB7F00"/>
<path d="M500.6,1048.6 L501.1,1048.6 L501.6,1048.6 L502.1,1048.6 L502.6,1048.6 L503.1,1048.6 L503.6,1048.6 L504.1,1048.6 L504.6,1048.6 L505.1,1048.6 L505.6,1048.6 L506.1,1048.6 L506.6,1048.6 L507.1,1048.6 L507.6,1048.6 L508.1,1048.6 L508.6,1048.6 L509.1,1048.6 L509.6,1048.6 L510.1,1048.6 L510.6,1048.6 L511.1,1048.6 L511.6,1048.6 L512.1,1048.6 L512.6,1048.6 L513.1,1048.6 L513.6,1048.6 L514.1,1048.6 L514.6,1048.6 L515.1,1048.6 L515.6,1048.6 L516.1,1048.6 L516.6,1048.6 L517.1,1048.6 L517.6,1048.6 L518.1,1048.6 L518.6,1048.6 L519.1,1048.6 L519.6,1048.6 L520.1,1048.6 L520.6,1048.6 L521.1,1048.6 L521.6,1048.6 L522.1,1048.6 L522.6,1048.6 L523.1,1048.6 L523.6,1048.6 L524.1,1048.6 L524.6,1048.6 L525.1,1048.6 L525.6,1048.6 L526.1,1048.6 L526.6,1048.6 L527.1,1048.6 L527.6,1048.6 L528.1,1048.6 L528.6,1048.6 L529.1,1048.6 L529.6,1048.6 L530.1,1048.6 L530.6,1048.6 L531.1,1048.6 L531.6,1048.6 L532.1,1048.6 L532.6,1048.6 L533.1,1048.6 L533.6,1048.6 L534.1,1048.6 L534.6,1048.6 L535.1,1048.6 L535.6,1048.6 L536.1,1048.6 L536.6,1048.6 L537.1,1048.6 L537.6,1048.6 L538.1,1048.6 L538.6,1048.6 L539.1,1048.6 L539.6,1048.6 L540.1,1048.6 L540.6,1048.6 L541.1,1048.6 L541.6,1048.6 L542.1,1048.6 L542.6,1048.6 L543.1,1048.6 L543.6,1048.6 L544.1,1048.6 L544.6,1048.6 L545.1,1048.6 L545.6,1048.6 L546.1,1048.6 L546.6,1048.6 L547.1,1048.6 L547.6,1048.6 L548.1,1048.6 L548.6,1048.6 L549.1,1048.6 L549.6,1048.6 L550.1,1048.6 L550.6,1048.6 L551.1,1048.6 L551.6,1048.6 L552.1,1048.6 L552.6,1048.6 L553.1,1048.6 L553.6,1048.6 L554.1,1048.6 L554.6,1048.6 L555.1,1048.6 L555.6,1048.6 L556.1,1048.6 L556.6,1048.6 L557.1,1048.6 L557.6,1048.6 L558.1,1048.6 L558.6,1048.6 L559.1,1048.6 L559.6,1048.6 L560.1,1048.6 L560.6,1048.6 L561.1,1048.6 L561.6,1048.6 L562.1,1048.6 L562.6,1048.6 L563.1,1048.6 L563.6,1048.6 L564.1,1048.6 L564.6,1048.6 L565.1,1048.6 L565.6,1048.6 L566.1,1048.6 L566.6,1048.6 L567.1,1048.6 L567.6,1048.6 L568.1,1048.6 L568.6,1048.6 L569.1,1048.6 L569.6,1048.6 L570.1,1048.6 L570.6,1048.6 L571.1,1048.6 L571.6,1048.6 L572.1,1048.6 L572.6,1048.6 L573.1,1048.6 L573.6,1048.6 L574.1,1048.6 L574.6,1048.6 L575.1,1048.6 L575.6,1048.6 L576.1,1048.6 L576.6,1048.6 L577.1,1048.6 L577.6,1048.6 L578.1,1048.6 L578.6,1048.6 L579.1,1048.6 L579.6,1048.6 L580.1,1048.6 L580.6,1048.6 L581.1,1048.6 L581.6,1048.6 L582.1,1048.6 L582.6,1048.6 L583.1,1048.6 L583.6,1048.6 L584.1,1048.6 L584.6,1048.6 L585.1,1048.6 L585.6,1048.6 L586.1,1048.6 L586.6,1048.6 L587.1,1048.6 L587.6,1048.6 L588.1,1048.6 L588.6,1048.6 L589.1,1048.6 L589.6,1048.6 L590.1,1048.6 L590.6,1048.6 L591.1,1048.6 L591.6,1048.6 L592.1,1048.6 L592.6,1048.6 L593.1,1048.6 L593.6,1048.6 L594.1,1048.6 L594.6,1048.6 L595.1,1048.6 L595.6,1048.6 L596.1,1048.6 L596.6,1048.6 L597.1,1048.6 L597.6,1048.6 L598.1,1048.6 L598.6,1048.6 L599.1,1048.6 L599.6,1048.6 L600.1,1048.6 L600.6,1048.6 L601.1,1048.6 L601.6,1048.6 L602.1,1048.6 L602.6,1048.6 L603.1,1048.6 L603.6,1048.6 L604.1,1048.6 L604.6,1048.6 L605.1,1048.6 L605.6,1048.6 L606.1,1048.6 L606.6,1048.6 L607.1,1048.6 L607.6,1048.6 L608.1,1048.6 L608.6,1048.6 L609.1,1048.6 L609.6,1048.6 L610.1,1048.6 L610.6,1048.6 L611.1,1048.6 L611.6,1048.6 L612.1,1048.6 L612.6,1048.6 L613.1,1048.6 L613.6,1048.6 L614.1,1048.6 L614.6,1048.6 L615.1,1048.6 L615.6,1048.6 L616.1,1048.6 L616.6,1048.6 L617.1,1048.6 L617.6,1048.6 L618.1,1048.6 L618.6,1048.6 L619.1,1048.6 L619.6,1048.6 L620.1,1048.6 L620.6,1048.6 L621.1,1048.6 L621.6,1048.6 L622.1,1048.6 L622.6,1048.6 L623.1,1048.6 L623.6,1048.6 L624.1,1048.6 L624.6,1048.6 L625.1,1048.6 L625.6,1048.6 L626.1,1048.6 L626.6,1048.6 L627.1,1048.6 L627.6,1048.6 L628.1,1048.6 L628.6,1048.6 L629.1,1048.6 L629.6,1048.6 L630.1,1048.6 L630.6,1048.6 L631.1,1048.6 L631.6,1048.6 L632.1,1048.6 L632.6,1048.6 L633.1,1048.6 L633.6,1048.6 L634.1,1048.6 L634.6,1048.6 L635.1,1048.6 L635.6,1048.6 L636.1,1048.6 L636.6,1048.6 L637.1,1048.6 L637.6,1048.6 L638.1,1048.6 L638.6,1048.6 L639.1,1048.6 L639.6,1048.6 L640.1,1048.6 L640.6,1048.6 L641.1,1048.6 L641.6,1048.6 L642.1,1048.6 L642.6,1048.6 L643.1,1048.6 L643.6,1048.6 L644.1,1048.6 L644.6,1048.6 L645.1,1048.6 L645.6,1048.6 L646.1,1048.6 L646.6,1048.6 L647.1,1048.6 L647.6,1048.6 L648.1,1048.6 L648.6,1048.6 L649.1,1048.6 L649.6,1048.6 L650.1,1048.6 L650.6,1048.6 L651.1,1048.6 L651.6,1048.6 L652.1,1048.6 L652.6,1048.6 L653.1,1048.6 L653.6,1048.6 L654.1,1048.6 L654.6,1048.6 L655.1,1048.6 L655.6,1048.6 L656.1,1048.6 L656.6,1048.6 L657.1,1048.6 L657.6,1048.6 L658.1,1048.6 L658.6,1048.6 L659.1,1048.6 L659.6,1048.6 L660.1,1048.6 L660.6,1048.6 L661.1,1048.6 L661.6,1048.6 L662.1,1048.6 L662.6,1048.6 L663.1,1048.6 L663.6,1048.6 L664.1,1048.6 L664.6,1048.6 L665.1,1048.6 L665.6,1048.6 L666.1,1048.6 L666.6,1048.6 L667.1,1048.6 L667.6,1048.6 L668.1,1048.6 L668.6,1048.6 L669.1,1048.6 L669.6,1048.6 L670.1,1048.6 L670.6,1048.6 L671.1,1048.6 L671.6,1048.6 L672.1,1048.6 L672.6,1048.6 L673.1,1048.6 L673.6,1048.6 L674.1,1048.6 L674.6,1048.6 L675.1,1048.6 L675.6,1048.6 L676.1,1048.6 L676.6,1048.6 L677.1,1048.6 L677.6,1048.6 L678.1,1048.6 L678.6,1048.6 L679.1,1048.6 L679.6,1048.6 L680.1,1048.6 L680.6,1048.6 L681.1,1048.6 L681.6,1048.6 L682.1,1048.6 L682.6,1048.6 L683.1,1048.6 L683.6,1048.6 L684.1,1048.6 L684.6,1048.6 L685.1,1048.6 L685.6,1048.6 L686.1,1048.6 L686.6,1048.6 L687.1,1048.6 L687.6,1048.6 L688.1,1048.6 L688.6,1048.6 L689.1,1048.6 L689.6,1048.6 L690.1,1048.6 L690.6,1048.6 L691.1,1048.6 L691.6,1048.6 L692.1,1048.6 L692.6,1048.6 L693.1,1048.6 L693.6,1048.6 L694.1,1048.6 L694.6,1048.6 L695.1,1048.6 L695.6,1048.6 L696.1,1048.6 L696.6,1048.6 L697.1,1048.6 L697.6,1048.6 L698.1,1048.6 L698.6,1048.6 L699.1,1048.6 L699.6,1048.6 L700.1,1048.6 L700.6,1048.6 L701.1,1048.6 L701.6,1048.6 L702.1,1048.6 L702.6,1048.6 L703.1,1048.6 L703.6,1048.6 L704.1,1048.6 L704.6,1048.6 L705.1,1048.6 L705.6,1048.6 L706.1,1048.6 L706.6,1048.6 L707.1,1048.6 L707.6,1048.6 L708.1,1048.6 L708.6,1048.6 L709.1,1048.6 L709.6,1048.6 L710.1,1048.6 L710.6,1048.6 L711.1,1048.6 L711.6,1048.6 L712.1,1048.6 L712.6,1048.6 L713.1,1048.6 L713.6,1048.6 L714.1,1048.6 L714.6,1048.6 L715.1,1048.6 L715.6,1048.6 L716.1,1048.6 L716.6,1048.6 L717.1,1048.6 L717.6,1048.5 L718.1,1048.5 L718.6,1048.5 L719.1,1048.5 L719.6,1048.5 L720.1,1048.5 L720.6,1048.5 L721.1,1048.5 L721.6,1048.5 L722.1,1048.5 L722.6,1048.5 L723.1,1048.5 L723.6,1048.5 L724.1,1048.5 L724.6,1048.5 L725.1,1048.5 L725.6,1048.5 L726.1,1048.5 L726.6,1048.5 L727.1,1048.5 L727.6,1048.5 L728.1,1048.5 L728.6,1048.4 L729.1,1048.4 L729.6,1048.4 L730.1,1048.4 L730.6,1048.4 L731.1,1048.4 L731.6,1048.4 L732.1,1048.4 L732.6,1048.4 L733.1,1048.4 L733.6,1048.4 L734.1,1048.4 L734.6,1048.4 L735.1,1048.4 L735.6,1048.4 L736.1,1048.4 L736.6,1048.3 L737.1,1048.3 L737.6,1048.3 L738.1,1048.3 L738.6,1048.3 L739.1,1048.3 L739.6,1048.3 L740.1,1048.3 L740.6,1048.3 L741.1,1048.3 L741.6,1048.3 L742.1,1048.3 L742.6,1048.2 L743.1,1048.2 L743.6,1048.2 L744.1,1048.2 L744.6,1048.2 L745.1,1048.2 L745.6,1048.2 L746.1,1048.1 L746.6,1048.1 L747.1,1048.1 L747.6,1048.1 L748.1,1048.1 L748.6,1048.0 L749.1,1048.0 L749.6,1048.0 L750.1,1048.0 L750.6,1048.0 L751.1,1047.9 L751.6,1047.9 L752.1,1047.9 L752.6,1047.9 L753.1,1047.8 L753.6,1047.8 L754.1,1047.8 L754.6,1047.7 L755.1,1047.7 L755.6,1047.7 L756.1,1047.6 L756.6,1047.6 L757.1,1047.5 L757.6,1047.5 L758.1,1047.4 L758.6,1047.4 L759.1,1047.3 L759.6,1047.3 L760.1,1047.2 L760.6,1047.1 L761.1,1047.1 L761.6,1047.0 L762.1,1046.9 L762.6,1046.8 L763.1,1046.8 L763.6,1046.7 L764.1,1046.6 L764.6,1046.5 L765.1,1046.4 L765.6,1046.4 L766.1,1046.3 L766.6,1046.2 L767.1,1046.1 L767.6,1046.0 L768.1,1045.9 L768.6,1045.7 L769.1,1045.6 L769.6,1045.5 L770.1,1045.3 L770.6,1045.2 L771.1,1045.0 L771.6,1044.8 L772.1,1044.6 L772.6,1044.5 L773.1,1044.3 L773.6,1044.1 L774.1,1043.8 L774.6,1043.6 L775.1,1043.4 L775.6,1043.1 L776.1,1042.8 L776.6,1042.6 L777.1,1042.2 L777.6,1041.9 L778.1,1041.5 L778.6,1041.2 L779.1,1040.8 L779.6,1040.4 L780.1,1040.0 L780.6,1039.5 L781.1,1039.1 L781.6,1038.6 L782.1,1038.1 L782.6,1037.6 L783.1,1037.0 L783.6,1036.4 L784.1,1035.7 L784.6,1035.0 L785.1,1034.3 L785.6,1033.5 L786.1,1032.7 L786.6,1031.8 L787.1,1030.7 L787.6,1029.6 L788.1,1028.4 L788.6,1027.2 L789.1,1025.8 L789.6,1024.3 L790.1,1022.8 L790.6,1020.9 L791.1,1018.9 L791.6,1016.8 L792.1,1014.6 L792.6,1012.4 L793.1,1010.0 L793.6,1007.6 L794.1,1005.0 L794.6,1002.3 L795.1,999.5 L795.6,996.4 L796.1,993.2 L796.6,989.9 L797.1,986.7 L797.6,983.6 L798.1,980.8 L798.6,978.1 L799.1,975.3 L799.6,972.4 L800.1,969.3 L800.6,965.8 L801.1,962.0 L801.6,957.9 L802.1,953.8 L802.6,949.8 L803.1,945.7 L803.6,941.7 L804.1,937.6 L804.6,933.7 L805.1,929.8 L805.6,926.2 L806.1,922.6 L806.6,919.1 L807.1,915.5 L807.6,912.0 L808.1,908.3 L808.6,904.6 L809.1,901.2 L809.6,898.0 L810.1,895.1 L810.6,892.4 L811.1,889.8 L811.6,887.4 L812.1,885.1 L812.6,883.0 L813.1,880.9 L813.6,879.0 L814.1,877.3 L814.6,875.7 L815.1,874.2 L815.6,872.8 L816.1,871.5 L816.6,870.3 L817.1,869.3 L817.6,868.5 L818.1,867.7 L818.6,866.9 L819.1,866.3 L819.6,865.8 L820.1,865.3 L820.6,864.9 L821.1,864.4 L821.6,864.1 L822.1,863.7 L822.5,863.5 L822.7,863.4 L823.0,863.4 L823.2,863.5 L823.5,863.7 L823.7,864.0 L824.0,864.3 L824.2,864.8 L824.5,865.3 L824.7,865.9 L825.0,866.5 L825.2,867.3 L825.5,868.0 L825.7,868.8 L826.0,869.7 L826.2,870.6 L826.5,871.5 L826.7,872.5 L827.0,873.4 L827.2,874.4 L827.5,875.3 L827.7,876.2 L828.0,877.1 L828.2,878.0 L828.5,878.8 L828.7,879.6 L829.0,880.4 L829.2,881.0 L829.5,881.7 L829.7,882.2 L830.0,882.7 L830.2,883.0 L830.5,883.3 L830.7,883.5 L831.0,883.7 L831.2,883.7 L831.5,883.6 L831.7,883.5 L832.0,883.2 L832.2,882.9 L832.5,882.5 L832.7,881.9 L833.0,881.4 L833.2,880.7 L833.5,880.0 L833.7,879.2 L834.0,878.3 L834.2,877.4 L834.5,876.4 L834.7,875.4 L835.0,874.3 L835.2,873.3 L835.5,872.2 L835.7,871.1 L836.0,869.9 L836.2,868.8 L836.5,867.7 L836.7,866.6 L837.0,865.6 L837.2,864.6 L837.5,863.6 L837.7,862.6 L838.0,861.7 L838.2,860.9 L838.5,860.2 L838.7,859.5 L839.0,858.9 L839.2,858.4 L839.5,857.9 L839.7,857.6 L840.0,857.3 L840.2,857.1 L840.5,857.1 L840.8,857.2 L841.0,857.4 L841.3,857.9 L841.5,858.5 L841.8,859.2 L842.1,860.0 L842.3,860.9 L842.6,862.0 L842.8,863.1 L843.1,864.2 L843.4,865.4 L843.6,866.5 L843.9,867.7 L844.1,868.8 L844.4,869.8 L844.6,870.8 L844.9,871.6 L845.2,872.3 L845.4,872.9 L845.7,873.4 L845.9,873.7 L846.2,873.8 L846.5,873.8 L846.7,873.6 L847.0,873.2 L847.2,872.7 L847.5,872.0 L847.7,871.2 L848.0,870.2 L848.2,869.1 L848.5,867.9 L848.7,866.7 L849.0,865.3 L849.2,863.9 L849.5,862.5 L849.8,861.1 L850.0,859.8 L850.3,858.4 L850.5,857.1 L850.8,855.9 L851.0,854.8 L851.3,853.8 L851.5,853.0 L851.8,852.3 L852.0,851.7 L852.3,851.4 L852.6,851.1 L852.8,851.1 L853.1,851.2 L853.3,851.4 L853.6,851.8 L853.8,852.3 L854.1,852.9 L854.4,853.6 L854.6,854.4 L854.9,855.3 L855.1,856.2 L855.4,857.1 L855.7,858.0 L855.9,858.9 L856.2,859.8 L856.4,860.6 L856.7,861.4 L857.0,862.0 L857.2,862.5 L857.5,862.9 L857.7,863.1 L858.0,863.2 L858.2,863.2 L858.5,862.8 L858.8,862.0 L859.0,860.7 L859.3,859.0 L859.5,857.2 L859.8,855.2 L860.1,853.1 L860.3,851.3 L860.6,849.6 L860.8,848.3 L861.1,847.5 L861.4,847.1 L861.6,847.0 L861.9,847.1 L862.1,847.2 L862.4,847.5 L862.7,848.0 L862.9,848.5 L863.2,849.0 L863.4,849.7 L863.7,850.4 L864.0,851.1 L864.2,851.8 L864.5,852.5 L864.7,853.1 L865.0,853.7 L865.2,854.3 L865.5,854.7 L865.8,855.0 L866.0,855.2 L866.3,855.2 L866.6,855.2 L866.8,854.9 L867.1,854.4 L867.3,853.7 L867.6,852.7 L867.9,851.6 L868.1,850.4 L868.4,849.1 L868.6,847.7 L868.9,846.4 L869.2,845.2 L869.4,844.0 L869.7,843.1 L869.9,842.4 L870.2,841.8 L870.5,841.6 L870.7,841.6 L871.0,841.9 L871.2,842.6 L871.5,843.5 L871.7,844.6 L872.0,845.9 L872.2,847.3 L872.5,848.8 L872.8,850.3 L873.0,851.8 L873.3,853.1 L873.5,854.2 L873.8,855.1 L874.0,855.8 L874.3,856.1 L874.6,856.2 L874.8,855.1 L875.1,852.3 L875.4,848.6 L875.7,844.8 L876.0,842.0 L876.2,840.9 L876.5,841.5 L876.8,843.2 L877.1,845.7 L877.4,848.1 L877.6,849.9 L877.9,850.4 L878.2,849.6 L878.5,847.5 L878.8,844.8 L879.1,842.1 L879.3,840.0 L879.6,839.2 L879.9,839.7 L880.2,841.5 L880.5,843.9 L880.7,846.4 L881.0,848.2 L881.3,848.7 L881.6,847.9 L881.9,845.8 L882.2,843.1 L882.4,840.3 L882.7,838.2 L883.0,837.4 L883.3,837.9 L883.6,839.7 L883.8,842.2 L884.1,844.7 L884.4,846.5 L884.7,847.0 L885.0,846.2 L885.3,844.1 L885.5,841.3 L885.8,838.5 L886.1,836.5 L886.4,835.6 L886.7,836.2 L886.9,838.0 L887.2,840.5 L887.5,843.0 L887.8,844.8 L888.1,845.4 L888.4,844.5 L888.6,842.4 L888.9,839.6 L889.2,836.8 L889.5,834.7 L889.8,833.8 L890.0,834.4 L890.3,836.2 L890.6,838.7 L890.9,841.3 L891.2,843.1 L891.5,843.7 L891.7,842.8 L892.0,840.7 L892.3,837.9 L892.6,835.0 L892.9,832.9 L893.1,832.1 L893.4,832.6 L893.7,834.5 L894.0,837.0 L894.3,839.6 L894.5,841.4 L894.8,842.0 L895.1,841.1 L895.4,839.0 L895.7,836.1 L896.0,833.3 L896.2,831.2 L896.5,830.3 L896.8,830.9 L897.1,832.7 L897.4,835.3 L897.6,837.9 L897.9,839.7 L898.2,840.3 L898.5,839.4 L898.8,837.3 L899.1,834.4 L899.3,831.5 L899.6,829.4 L899.9,828.5 L900.2,829.1 L900.5,830.9 L900.7,833.5 L901.0,836.1 L901.3,838.0 L901.6,838.6 L901.9,837.7 L902.2,835.6 L902.4,832.7 L902.7,829.8 L903.0,827.6 L903.3,826.7 L903.6,827.3 L903.8,829.2 L904.1,831.8 L904.4,834.4 L904.7,836.3 L905.0,836.9 L905.3,836.0 L905.5,833.9 L905.8,830.9 L906.1,828.0 L906.4,825.8 L906.7,825.0 L906.9,825.8 L907.2,828.5 L907.5,832.3 L907.8,836.0 L908.1,838.7 L908.4,839.6 L908.6,839.3 L908.9,838.7 L909.1,837.7 L909.4,836.5 L909.6,834.9 L909.9,833.2 L910.1,831.4 L910.4,829.5 L910.7,827.6 L910.9,825.7 L911.2,824.0 L911.4,822.5 L911.7,821.2 L911.9,820.2 L912.2,819.6 L912.5,819.2 L912.7,819.3 L913.0,819.5 L913.2,820.1 L913.5,820.8 L913.8,821.8 L914.0,822.9 L914.3,824.1 L914.5,825.3 L914.8,826.5 L915.1,827.6 L915.3,828.6 L915.6,829.4 L915.8,829.9 L916.1,830.2 L916.4,830.2 L916.6,830.0 L916.9,829.6 L917.1,829.1 L917.4,828.5 L917.7,827.7 L917.9,826.9 L918.2,825.9 L918.4,824.9 L918.7,823.8 L919.0,822.7 L919.2,821.6 L919.5,820.6 L919.7,819.5 L920.0,818.6 L920.2,817.7 L920.5,816.9 L920.8,816.3 L921.0,815.8 L921.3,815.4 L921.6,815.2 L921.8,815.3 L922.1,816.0 L922.3,817.2 L922.6,818.9 L922.8,820.8 L923.1,822.8 L923.4,824.9 L923.6,826.8 L923.9,828.4 L924.1,829.7 L924.4,830.4 L924.7,830.5 L924.9,830.3 L925.2,829.9 L925.4,829.4 L925.7,828.6 L925.9,827.7 L926.2,826.7 L926.5,825.6 L926.7,824.3 L927.0,823.0 L927.2,821.6 L927.5,820.2 L927.8,818.8 L928.0,817.5 L928.3,816.1 L928.5,814.9 L928.8,813.7 L929.1,812.7 L929.3,811.8 L929.6,811.0 L929.8,810.4 L930.1,810.0 L930.4,809.8 L930.6,809.8 L930.9,809.9 L931.1,810.3 L931.4,810.9 L931.6,811.6 L931.9,812.5 L932.1,813.5 L932.4,814.7 L932.6,816.0 L932.9,817.3 L933.1,818.7 L933.4,820.2 L933.7,821.6 L933.9,823.0 L934.2,824.4 L934.4,825.7 L934.7,826.9 L934.9,827.9 L935.2,828.8 L935.4,829.6 L935.7,830.2 L935.9,830.6 L936.2,830.7 L936.5,830.7 L936.7,830.5 L937.0,830.0 L937.2,829.4 L937.5,828.6 L937.7,827.5 L938.0,826.3 L938.3,825.0 L938.5,823.5 L938.8,821.9 L939.0,820.2 L939.3,818.5 L939.6,816.7 L939.8,814.9 L940.1,813.2 L940.3,811.5 L940.6,809.9 L940.8,808.4 L941.1,807.0 L941.4,805.8 L941.6,804.8 L941.9,803.9 L942.1,803.2 L942.4,802.8 L942.7,802.5 L942.9,802.5 L943.2,802.5 L943.4,802.7 L943.7,802.9 L943.9,803.3 L944.2,803.8 L944.4,804.4 L944.7,805.0 L944.9,805.8 L945.2,806.6 L945.4,807.6 L945.7,808.5 L945.9,809.6 L946.2,810.7 L946.4,811.8 L946.7,812.9 L946.9,814.1 L947.2,815.3 L947.4,816.5 L947.7,817.6 L947.9,818.7 L948.2,819.8 L948.4,820.9 L948.7,821.9 L948.9,822.8 L949.2,823.7 L949.4,824.5 L949.7,825.2 L949.9,825.8 L950.2,826.3 L950.4,826.7 L950.7,826.9 L950.9,827.1 L951.2,827.2 L951.5,827.1 L951.7,826.9 L952.0,826.6 L952.2,826.2 L952.5,825.6 L952.7,825.0 L953.0,824.2 L953.2,823.3 L953.5,822.2 L953.7,821.1 L954.0,819.9 L954.2,818.6 L954.5,817.3 L954.7,815.8 L955.0,814.4 L955.2,812.8 L955.5,811.3 L955.7,809.7 L956.0,808.1 L956.2,806.5 L956.5,804.9 L956.7,803.3 L957.0,801.8 L957.2,800.3 L957.5,798.8 L957.7,797.5 L958.0,796.2 L958.2,794.9 L958.5,793.8 L958.7,792.8 L959.0,791.8 L959.2,791.0 L959.5,790.3 L959.7,789.7 L960.0,789.3 L960.2,788.9 L960.5,788.7 L961.0,788.5 L961.5,788.4 L962.0,788.3 L962.5,788.3 L963.0,788.3 L963.5,788.4 L964.0,788.9 L964.5,789.7 L965.0,790.8 L965.5,792.1 L966.0,793.3 L966.5,794.5 L967.0,795.9 L967.5,797.5 L968.0,799.1 L968.5,800.8 L969.0,802.5 L969.5,804.2 L970.0,806.1 L970.5,808.2 L971.0,810.7 L971.5,813.7 L972.0,817.1 L972.5,821.0 L973.0,825.2 L973.5,829.6 L974.0,834.6 L974.5,840.2 L975.0,846.1 L975.5,852.0 L976.0,857.6 L976.5,863.0 L977.0,868.2 L977.5,873.3 L978.0,878.4 L978.5,883.5 L979.0,888.6 L979.5,893.7 L980.0,898.8 L980.5,903.8 L981.0,908.9 L981.5,913.9 L982.0,919.0 L982.5,924.0 L983.0,929.1 L983.5,934.3 L984.0,939.5 L984.5,945.0 L985.0,950.8 L985.5,956.5 L986.0,962.2 L986.5,967.5 L987.0,972.4 L987.5,976.7 L988.0,980.5 L988.5,984.2 L989.0,987.7 L989.5,991.0 L990.0,994.2 L990.5,997.1 L991.0,999.9 L991.5,1002.5 L992.0,1004.8 L992.5,1007.0 L993.0,1008.9 L993.5,1010.8 L994.0,1012.6 L994.5,1014.3 L995.0,1016.0 L995.5,1017.5 L996.0,1019.0 L996.5,1020.4 L997.0,1021.6 L997.5,1022.9 L998.0,1024.0 L998.5,1025.0 L999.0,1025.9 L999.5,1026.8 L1000.0,1027.6 L1000.5,1028.4 L1001.0,1029.2 L1001.5,1029.9 L1002.0,1030.6 L1002.5,1031.3 L1003.0,1032.0 L1003.5,1032.6 L1004.0,1033.3 L1004.5,1033.8 L1005.0,1034.4 L1005.5,1035.0 L1006.0,1035.5 L1006.5,1036.0 L1007.0,1036.4 L1007.5,1036.9 L1008.0,1037.3 L1008.5,1037.7 L1009.0,1038.1 L1009.5,1038.4 L1010.0,1038.8 L1010.5,1039.1 L1011.0,1039.5 L1011.5,1039.8 L1012.0,1040.1 L1012.5,1040.4 L1013.0,1040.8 L1013.5,1041.1 L1014.0,1041.3 L1014.5,1041.6 L1015.0,1041.9 L1015.5,1042.2 L1016.0,1042.4 L1016.5,1042.7 L1017.0,1042.9 L1017.5,1043.1 L1018.0,1043.4 L1018.5,1043.6 L1019.0,1043.8 L1019.5,1043.9 L1020.0,1044.1 L1020.5,1044.3 L1021.0,1044.4 L1021.5,1044.5 L1022.0,1044.6 L1022.5,1044.7 L1023.0,1044.8 L1023.5,1044.9 L1024.0,1045.0 L1024.5,1045.1 L1025.0,1045.2 L1025.5,1045.3 L1026.0,1045.4 L1026.5,1045.5 L1027.0,1045.5 L1027.5,1045.6 L1028.0,1045.7 L1028.5,1045.8 L1029.0,1045.8 L1029.5,1045.9 L1030.0,1046.0 L1030.5,1046.1 L1031.0,1046.1 L1031.5,1046.2 L1032.0,1046.2 L1032.5,1046.3 L1033.0,1046.3 L1033.5,1046.4 L1034.0,1046.4 L1034.5,1046.5 L1035.0,1046.5 L1035.5,1046.6 L1036.0,1046.6 L1036.5,1046.6 L1037.0,1046.7 L1037.5,1046.7 L1038.0,1046.7 L1038.5,1046.8 L1039.0,1046.8 L1039.5,1046.8 L1040.0,1046.8 L1040.5,1046.8 L1041.0,1046.8 L1041.5,1046.8 L1042.0,1046.9 L1042.5,1046.9 L1043.0,1046.9 L1043.5,1046.9 L1044.0,1046.9 L1044.5,1046.9 L1045.0,1046.9 L1045.5,1046.9 L1046.0,1046.9 L1046.5,1047.0 L1047.0,1047.0 L1047.5,1047.0 L1048.0,1047.0 L1048.5,1047.0 L1049.0,1047.0 L1049.5,1047.0 L1050.0,1047.0 L1050.5,1047.0 L1051.0,1047.0 L1051.5,1047.0 L1052.0,1047.1 L1052.5,1047.1 L1053.0,1047.1 L1053.5,1047.1 L1054.0,1047.1 L1054.5,1047.1 L1055.0,1047.1 L1055.5,1047.1 L1056.0,1047.1 L1056.5,1047.1 L1057.0,1047.1 L1057.5,1047.1 L1058.0,1047.1 L1058.5,1047.2 L1059.0,1047.2 L1059.5,1047.2 L1060.0,1047.2 L1060.5,1047.2 L1061.0,1047.2 L1061.5,1047.2 L1062.0,1047.2 L1062.5,1047.2 L1063.0,1047.2 L1063.5,1047.2 L1064.0,1047.2 L1064.5,1047.2 L1065.0,1047.2 L1065.5,1047.2 L1066.0,1047.2 L1066.5,1047.3 L1067.0,1047.3 L1067.5,1047.3 L1068.0,1047.3 L1068.5,1047.3 L1069.0,1047.3 L1069.5,1047.3 L1070.0,1047.3 L1070.5,1047.3 L1071.0,1047.3 L1071.5,1047.3 L1072.0,1047.3 L1072.5,1047.3 L1073.0,1047.3 L1073.5,1047.3 L1074.0,1047.3 L1074.5,1047.3 L1075.0,1047.3 L1075.5,1047.3 L1076.0,1047.3 L1076.5,1047.3 L1077.0,1047.3 L1077.5,1047.3 L1078.0,1047.3 L1078.5,1047.3 L1079.0,1047.4 L1079.5,1047.4 L1080.0,1047.4 L1080.5,1047.4 L1081.0,1047.4 L1081.5,1047.4 L1082.0,1047.4 L1082.5,1047.4 L1083.0,1047.4 L1083.5,1047.4 L1084.0,1047.4 L1084.5,1047.4 L1085.0,1047.4 L1085.5,1047.4 L1086.0,1047.4 L1086.5,1047.4 L1087.0,1047.4 L1087.5,1047.4 L1088.0,1047.4 L1088.5,1047.4 L1089.0,1047.4 L1089.5,1047.4 L1090.0,1047.4 L1090.5,1047.4 L1091.0,1047.4 L1091.5,1047.4 L1092.0,1047.4 L1092.5,1047.4 L1093.0,1047.4 L1093.5,1047.4 L1094.0,1047.4 L1094.5,1047.4 L1095.0,1047.4 L1095.5,1047.4 L1096.0,1047.4 L1096.5,1047.4 L1097.0,1047.4 L1097.5,1047.4 L1098.0,1047.4 L1098.5,1047.4 L1099.0,1047.4 L1099.5,1047.4 L1100.0,1047.4 L1100.5,1047.4 L1101.0,1047.4 L1101.5,1047.4 L1102.0,1047.4 L1102.5,1047.4 L1103.0,1047.4 L1103.5,1047.4 L1104.0,1047.4 L1104.5,1047.5 L1105.0,1047.5 L1105.5,1047.5 L1106.0,1047.5 L1106.5,1047.5 L1107.0,1047.5 L1107.5,1047.5 L1108.0,1047.5 L1108.5,1047.5 L1109.0,1047.5 L1109.5,1047.5 L1110.0,1047.5 L1110.5,1047.5 L1111.0,1047.5 L1111.5,1047.5 L1112.0,1047.5 L1112.5,1047.5 L1113.0,1047.5 L1113.5,1047.5 L1114.0,1047.5 L1114.5,1047.5 L1115.0,1047.5 L1115.5,1047.5 L1116.0,1047.5 L1116.5,1047.5 L1117.0,1047.5 L1117.5,1047.5 L1118.0,1047.5 L1118.5,1047.5 L1119.0,1047.5 L1119.5,1047.5 L1120.0,1047.5 L1120.5,1047.5 L1121.0,1047.5 L1121.5,1047.5 L1122.0,1047.5 L1122.5,1047.5 L1123.0,1047.5 L1123.5,1047.5 L1124.0,1047.5 L1124.5,1047.5 L1125.0,1047.5 L1125.5,1047.5 L1126.0,1047.5 L1126.5,1047.5 L1127.0,1047.5 L1127.5,1047.5 L1128.0,1047.5 L1128.5,1047.5 L1129.0,1047.5 L1129.5,1047.5 L1130.0,1047.5 L1130.5,1047.5 L1131.0,1047.5 L1131.5,1047.5 L1132.0,1047.5 L1132.5,1047.5 L1133.0,1047.5 L1133.5,1047.5 L1134.0,1047.5 L1134.5,1047.5 L1135.0,1047.5 L1135.5,1047.5 L1136.0,1047.5 L1136.5,1047.5 L1137.0,1047.5 L1137.5,1047.5 L1138.0,1047.5 L1138.5,1047.5 L1139.0,1047.5 L1139.5,1047.5 L1140.0,1047.5 L1140.5,1047.5 L1141.0,1047.5 L1141.5,1047.5 L1142.0,1047.5 L1142.5,1047.5 L1143.0,1047.5 L1143.5,1047.5 L1144.0,1047.6 L1144.5,1047.6 L1145.0,1047.6 L1145.5,1047.6 L1146.0,1047.6 L1146.5,1047.6 L1147.0,1047.6 L1147.5,1047.6 L1148.0,1047.6 L1148.5,1047.6 L1149.0,1047.6 L1149.5,1047.6 L1150.0,1047.6 L1150.5,1047.6 L1151.0,1047.6 L1151.5,1047.6 L1152.0,1047.6 L1152.5,1047.6 L1153.0,1047.6 L1153.5,1047.6 L1154.0,1047.6 L1154.5,1047.6 L1155.0,1047.6 L1155.5,1047.6 L1156.0,1047.6 L1156.5,1047.6 L1157.0,1047.6 L1157.5,1047.6 L1158.0,1047.6 L1158.5,1047.6 L1159.0,1047.6 L1159.5,1047.6 L1160.0,1047.6 L1160.5,1047.6 L1161.0,1047.6 L1161.5,1047.6 L1162.0,1047.6 L1162.5,1047.6 L1163.0,1047.6 L1163.5,1047.6 L1164.0,1047.6 L1164.5,1047.6 L1165.0,1047.6 L1165.5,1047.6 L1166.0,1047.6 L1166.5,1047.6 L1167.0,1047.6 L1167.5,1047.6 L1168.0,1047.6 L1168.5,1047.6 L1169.0,1047.6 L1169.5,1047.6 L1170.0,1047.6 L1170.5,1047.6 L1171.0,1047.6 L1171.5,1047.6 L1172.0,1047.6 L1172.5,1047.6 L1173.0,1047.6 L1173.5,1047.6 L1174.0,1047.6 L1174.5,1047.6 L1175.0,1047.6 L1175.5,1047.6 L1176.0,1047.6 L1176.5,1047.6 L1177.0,1047.6 L1177.5,1047.6 L1178.0,1047.6 L1178.5,1047.6 L1179.0,1047.6 L1179.5,1047.6 L1180.0,1047.6 L1180.5,1047.6 L1181.0,1047.6 L1181.5,1047.6 L1182.0,1047.6 L1182.5,1047.6 L1183.0,1047.6 L1183.5,1047.6 L1184.0,1047.6 L1184.5,1047.6 L1185.0,1047.6 L1185.5,1047.6 L1186.0,1047.6 L1186.5,1047.6 L1187.0,1047.6 L1187.5,1047.6 L1188.0,1047.6 L1188.5,1047.6 L1189.0,1047.6 L1189.5,1047.6 L1190.0,1047.6 L1190.5,1047.6 L1191.0,1047.6 L1191.5,1047.6 L1192.0,1047.6 L1192.5,1047.6 L1193.0,1047.6 L1193.5,1047.6 L1194.0,1047.6 L1194.5,1047.6 L1195.0,1047.6 L1195.5,1047.6 L1196.0,1047.6 L1196.5,1047.6 L1197.0,1047.6 L1197.5,1047.6 L1198.0,1047.6 L1198.5,1047.6 L1199.0,1047.6 L1199.5,1047.6 L1200.0,1047.6 L1200.5,1047.6 L1201.0,1047.6 L1201.5,1047.6 L1202.0,1047.6 L1202.5,1047.6 L1203.0,1047.6 L1203.5,1047.6 L1204.0,1047.6 L1204.5,1047.6 L1205.0,1047.6 L1205.5,1047.6 L1206.0,1047.6 L1206.5,1047.6 L1207.0,1047.6 L1207.5,1047.6 L1208.0,1047.6 L1208.5,1047.6 L1209.0,1047.6 L1209.5,1047.6 L1210.0,1047.6 L1210.5,1047.6 L1211.0,1047.6 L1211.5,1047.6 L1212.0,1047.6 L1212.5,1047.6 L1213.0,1047.6 L1213.5,1047.6 L1214.0,1047.6 L1214.5,1047.6 L1215.0,1047.6 L1215.5,1047.6 L1216.0,1047.6 L1216.5,1047.6 L1217.0,1047.6 L1217.5,1047.6 L1218.0,1047.6 L1218.3,1047.6" stroke="#8E2A90"/>
<path d="M500.6,1047.8 L501.1,1047.8 L501.6,1047.8 L502.1,1047.8 L502.6,1047.8 L503.1,1047.8 L503.6,1047.8 L504.1,1047.8 L504.6,1047.8 L505.1,1047.8 L505.6,1047.8 L506.1,1047.8 L506.6,1047.8 L507.1,1047.8 L507.6,1047.8 L508.1,1047.8 L508.6,1047.8 L509.1,1047.8 L509.6,1047.8 L510.1,1047.8 L510.6,1047.8 L511.1,1047.8 L511.6,1047.8 L512.1,1047.8 L512.6,1047.8 L513.1,1047.8 L513.6,1047.8 L514.1,1047.8 L514.6,1047.8 L515.1,1047.8 L515.6,1047.8 L516.1,1047.8 L516.6,1047.8 L517.1,1047.8 L517.6,1047.8 L518.1,1047.8 L518.6,1047.8 L519.1,1047.8 L519.6,1047.8 L520.1,1047.8 L520.6,1047.8 L521.1,1047.8 L521.6,1047.8 L522.1,1047.8 L522.6,1047.8 L523.1,1047.8 L523.6,1047.8 L524.1,1047.8 L524.6,1047.8 L525.1,1047.8 L525.6,1047.8 L526.1,1047.8 L526.6,1047.8 L527.1,1047.8 L527.6,1047.8 L528.1,1047.8 L528.6,1047.8 L529.1,1047.8 L529.6,1047.8 L530.1,1047.8 L530.6,1047.8 L531.1,1047.8 L531.6,1047.8 L532.1,1047.8 L532.6,1047.8 L533.1,1047.8 L533.6,1047.8 L534.1,1047.8 L534.6,1047.8 L535.1,1047.8 L535.6,1047.8 L536.1,1047.8 L536.6,1047.8 L537.1,1047.8 L537.6,1047.8 L538.1,1047.8 L538.6,1047.8 L539.1,1047.8 L539.6,1047.8 L540.1,1047.8 L540.6,1047.8 L541.1,1047.8 L541.6,1047.8 L542.1,1047.8 L542.6,1047.8 L543.1,1047.8 L543.6,1047.8 L544.1,1047.8 L544.6,1047.8 L545.1,1047.8 L545.6,1047.8 L546.1,1047.8 L546.6,1047.8 L547.1,1047.8 L547.6,1047.8 L548.1,1047.8 L548.6,1047.8 L549.1,1047.8 L549.6,1047.8 L550.1,1047.8 L550.6,1047.8 L551.1,1047.8 L551.6,1047.8 L552.1,1047.8 L552.6,1047.8 L553.1,1047.8 L553.6,1047.8 L554.1,1047.8 L554.6,1047.8 L555.1,1047.8 L555.6,1047.8 L556.1,1047.8 L556.6,1047.8 L557.1,1047.8 L557.6,1047.8 L558.1,1047.8 L558.6,1047.8 L559.1,1047.8 L559.6,1047.8 L560.1,1047.8 L560.6,1047.8 L561.1,1047.8 L561.6,1047.8 L562.1,1047.8 L562.6,1047.8 L563.1,1047.8 L563.6,1047.8 L564.1,1047.8 L564.6,1047.8 L565.1,1047.8 L565.6,1047.8 L566.1,1047.8 L566.6,1047.8 L567.1,1047.8 L567.6,1047.8 L568.1,1047.8 L568.6,1047.8 L569.1,1047.8 L569.6,1047.8 L570.1,1047.8 L570.6,1047.8 L571.1,1047.8 L571.6,1047.8 L572.1,1047.8 L572.6,1047.8 L573.1,1047.8 L573.6,1047.8 L574.1,1047.8 L574.6,1047.8 L575.1,1047.8 L575.6,1047.8 L576.1,1047.8 L576.6,1047.8 L577.1,1047.8 L577.6,1047.8 L578.1,1047.8 L578.6,1047.8 L579.1,1047.8 L579.6,1047.8 L580.1,1047.8 L580.6,1047.8 L581.1,1047.8 L581.6,1047.8 L582.1,1047.8 L582.6,1047.8 L583.1,1047.8 L583.6,1047.8 L584.1,1047.8 L584.6,1047.8 L585.1,1047.8 L585.6,1047.8 L586.1,1047.8 L586.6,1047.8 L587.1,1047.8 L587.6,1047.8 L588.1,1047.8 L588.6,1047.8 L589.1,1047.8 L589.6,1047.8 L590.1,1047.8 L590.6,1047.8 L591.1,1047.8 L591.6,1047.8 L592.1,1047.8 L592.6,1047.8 L593.1,1047.8 L593.6,1047.8 L594.1,1047.8 L594.6,1047.8 L595.1,1047.8 L595.6,1047.8 L596.1,1047.8 L596.6,1047.8 L597.1,1047.8 L597.6,1047.8 L598.1,1047.8 L598.6,1047.8 L599.1,1047.8 L599.6,1047.8 L600.1,1047.8 L600.6,1047.8 L601.1,1047.8 L601.6,1047.8 L602.1,1047.8 L602.6,1047.8 L603.1,1047.8 L603.6,1047.8 L604.1,1047.8 L604.6,1047.8 L605.1,1047.8 L605.6,1047.8 L606.1,1047.8 L606.6,1047.8 L607.1,1047.8 L607.6,1047.8 L608.1,1047.8 L608.6,1047.8 L609.1,1047.7 L609.6,1047.7 L610.1,1047.7 L610.6,1047.7 L611.1,1047.7 L611.6,1047.7 L612.1,1047.7 L612.6,1047.7 L613.1,1047.7 L613.6,1047.7 L614.1,1047.7 L614.6,1047.7 L615.1,1047.7 L615.6,1047.7 L616.1,1047.7 L616.6,1047.7 L617.1,1047.7 L617.6,1047.7 L618.1,1047.7 L618.6,1047.7 L619.1,1047.7 L619.6,1047.7 L620.1,1047.7 L620.6,1047.7 L621.1,1047.7 L621.6,1047.7 L622.1,1047.7 L622.6,1047.7 L623.1,1047.7 L623.6,1047.7 L624.1,1047.7 L624.6,1047.7 L625.1,1047.7 L625.6,1047.7 L626.1,1047.7 L626.6,1047.7 L627.1,1047.7 L627.6,1047.7 L628.1,1047.7 L628.6,1047.7 L629.1,1047.7 L629.6,1047.7 L630.1,1047.7 L630.6,1047.7 L631.1,1047.7 L631.6,1047.7 L632.1,1047.7 L632.6,1047.7 L633.1,1047.7 L633.6,1047.7 L634.1,1047.7 L634.6,1047.7 L635.1,1047.7 L635.6,1047.7 L636.1,1047.7 L636.6,1047.7 L637.1,1047.7 L637.6,1047.7 L638.1,1047.7 L638.6,1047.7 L639.1,1047.7 L639.6,1047.7 L640.1,1047.7 L640.6,1047.7 L641.1,1047.7 L641.6,1047.7 L642.1,1047.7 L642.6,1047.7 L643.1,1047.7 L643.6,1047.7 L644.1,1047.7 L644.6,1047.7 L645.1,1047.7 L645.6,1047.7 L646.1,1047.7 L646.6,1047.7 L647.1,1047.7 L647.6,1047.7 L648.1,1047.7 L648.6,1047.7 L649.1,1047.7 L649.6,1047.7 L650.1,1047.7 L650.6,1047.7 L651.1,1047.7 L651.6,1047.7 L652.1,1047.7 L652.6,1047.7 L653.1,1047.7 L653.6,1047.7 L654.1,1047.7 L654.6,1047.7 L655.1,1047.7 L655.6,1047.7 L656.1,1047.7 L656.6,1047.7 L657.1,1047.7 L657.6,1047.7 L658.1,1047.7 L658.6,1047.7 L659.1,1047.7 L659.6,1047.7 L660.1,1047.7 L660.6,1047.7 L661.1,1047.7 L661.6,1047.7 L662.1,1047.7 L662.6,1047.7 L663.1,1047.7 L663.6,1047.7 L664.1,1047.7 L664.6,1047.7 L665.1,1047.7 L665.6,1047.7 L666.1,1047.7 L666.6,1047.7 L667.1,1047.7 L667.6,1047.7 L668.1,1047.7 L668.6,1047.7 L669.1,1047.7 L669.6,1047.7 L670.1,1047.7 L670.6,1047.7 L671.1,1047.7 L671.6,1047.7 L672.1,1047.7 L672.6,1047.7 L673.1,1047.7 L673.6,1047.7 L674.1,1047.7 L674.6,1047.7 L675.1,1047.7 L675.6,1047.7 L676.1,1047.7 L676.6,1047.7 L677.1,1047.6 L677.6,1047.6 L678.1,1047.6 L678.6,1047.6 L679.1,1047.6 L679.6,1047.6 L680.1,1047.6 L680.6,1047.6 L681.1,1047.6 L681.6,1047.6 L682.1,1047.6 L682.6,1047.6 L683.1,1047.6 L683.6,1047.6 L684.1,1047.6 L684.6,1047.6 L685.1,1047.6 L685.6,1047.6 L686.1,1047.6 L686.6,1047.6 L687.1,1047.6 L687.6,1047.6 L688.1,1047.6 L688.6,1047.6 L689.1,1047.6 L689.6,1047.6 L690.1,1047.6 L690.6,1047.6 L691.1,1047.6 L691.6,1047.6 L692.1,1047.6 L692.6,1047.6 L693.1,1047.6 L693.6,1047.6 L694.1,1047.6 L694.6,1047.6 L695.1,1047.6 L695.6,1047.6 L696.1,1047.6 L696.6,1047.6 L697.1,1047.6 L697.6,1047.6 L698.1,1047.6 L698.6,1047.6 L699.1,1047.6 L699.6,1047.6 L700.1,1047.6 L700.6,1047.6 L701.1,1047.6 L701.6,1047.6 L702.1,1047.6 L702.6,1047.6 L703.1,1047.6 L703.6,1047.6 L704.1,1047.6 L704.6,1047.6 L705.1,1047.6 L705.6,1047.6 L706.1,1047.6 L706.6,1047.6 L707.1,1047.6 L707.6,1047.6 L708.1,1047.6 L708.6,1047.6 L709.1,1047.6 L709.6,1047.5 L710.1,1047.5 L710.6,1047.5 L711.1,1047.5 L711.6,1047.5 L712.1,1047.5 L712.6,1047.5 L713.1,1047.5 L713.6,1047.5 L714.1,1047.5 L714.6,1047.5 L715.1,1047.5 L715.6,1047.5 L716.1,1047.5 L716.6,1047.5 L717.1,1047.5 L717.6,1047.5 L718.1,1047.5 L718.6,1047.4 L719.1,1047.4 L719.6,1047.4 L720.1,1047.4 L720.6,1047.4 L721.1,1047.4 L721.6,1047.4 L722.1,1047.4 L722.6,1047.4 L723.1,1047.4 L723.6,1047.4 L724.1,1047.4 L724.6,1047.4 L725.1,1047.3 L725.6,1047.3 L726.1,1047.3 L726.6,1047.3 L727.1,1047.3 L727.6,1047.3 L728.1,1047.3 L728.6,1047.3 L729.1,1047.3 L729.6,1047.3 L730.1,1047.2 L730.6,1047.2 L731.1,1047.2 L731.6,1047.2 L732.1,1047.2 L732.6,1047.2 L733.1,1047.2 L733.6,1047.2 L734.1,1047.2 L734.6,1047.1 L735.1,1047.1 L735.6,1047.1 L736.1,1047.1 L736.6,1047.1 L737.1,1047.1 L737.6,1047.1 L738.1,1047.1 L738.6,1047.0 L739.1,1047.0 L739.6,1047.0 L740.1,1047.0 L740.6,1047.0 L741.1,1047.0 L741.6,1046.9 L742.1,1046.9 L742.6,1046.9 L743.1,1046.9 L743.6,1046.8 L744.1,1046.8 L744.6,1046.8 L745.1,1046.8 L745.6,1046.7 L746.1,1046.7 L746.6,1046.7 L747.1,1046.6 L747.6,1046.6 L748.1,1046.5 L748.6,1046.5 L749.1,1046.4 L749.6,1046.4 L750.1,1046.3 L750.6,1046.3 L751.1,1046.2 L751.6,1046.2 L752.1,1046.1 L752.6,1046.1 L753.1,1046.0 L753.6,1046.0 L754.1,1045.9 L754.6,1045.8 L755.1,1045.8 L755.6,1045.7 L756.1,1045.6 L756.6,1045.5 L757.1,1045.4 L757.6,1045.3 L758.1,1045.2 L758.6,1045.1 L759.1,1044.9 L759.6,1044.8 L760.1,1044.7 L760.6,1044.5 L761.1,1044.4 L761.6,1044.2 L762.1,1044.1 L762.6,1043.9 L763.1,1043.8 L763.6,1043.6 L764.1,1043.4 L764.6,1043.3 L765.1,1043.1 L765.6,1042.9 L766.1,1042.7 L766.6,1042.5 L767.1,1042.3 L767.6,1042.1 L768.1,1041.8 L768.6,1041.6 L769.1,1041.3 L769.6,1041.0 L770.1,1040.7 L770.6,1040.4 L771.1,1040.0 L771.6,1039.7 L772.1,1039.3 L772.6,1038.9 L773.1,1038.5 L773.6,1038.1 L774.1,1037.7 L774.6,1037.2 L775.1,1036.7 L775.6,1036.2 L776.1,1035.6 L776.6,1035.0 L777.1,1034.4 L777.6,1033.7 L778.1,1033.0 L778.6,1032.2 L779.1,1031.4 L779.6,1030.6 L780.1,1029.7 L780.6,1028.9 L781.1,1027.9 L781.6,1027.0 L782.1,1025.9 L782.6,1024.8 L783.1,1023.7 L783.6,1022.4 L784.1,1021.1 L784.6,1019.7 L785.1,1018.2 L785.6,1016.7 L786.1,1015.0 L786.6,1013.2 L787.1,1011.2 L787.6,1009.0 L788.1,1006.6 L788.6,1004.0 L789.1,1001.3 L789.6,998.4 L790.1,995.2 L790.6,991.6 L791.1,987.6 L791.6,983.4 L792.1,979.1 L792.6,974.6 L793.1,970.0 L793.6,965.2 L794.1,960.1 L794.6,954.9 L795.1,949.4 L795.6,943.4 L796.1,937.0 L796.6,930.6 L797.1,924.4 L797.6,918.5 L798.1,913.1 L798.6,907.9 L799.1,902.6 L799.6,897.2 L800.1,891.3 L800.6,884.6 L801.1,877.3 L801.6,869.6 L802.1,861.8 L802.6,854.1 L803.1,846.5 L803.6,838.9 L804.1,831.3 L804.6,823.9 L805.1,816.8 L805.6,810.0 L806.1,803.4 L806.6,797.0 L807.1,790.6 L807.6,784.1 L808.1,777.4 L808.6,770.8 L809.1,764.5 L809.6,758.9 L810.1,753.8 L810.6,749.0 L811.1,744.5 L811.6,740.3 L812.1,736.5 L812.6,732.9 L813.1,729.5 L813.6,726.3 L814.1,723.5 L814.6,721.0 L815.1,718.7 L815.6,716.5 L816.1,714.5 L816.6,712.9 L817.1,711.5 L817.6,710.4 L818.1,709.4 L818.6,708.5 L819.1,707.8 L819.6,707.3 L820.1,706.9 L820.6,706.6 L821.1,706.4 L821.6,706.1 L822.1,706.0 L822.5,706.0 L822.7,706.1 L823.0,706.3 L823.2,706.8 L823.5,707.4 L823.7,708.1 L824.0,709.0 L824.2,710.1 L824.5,711.3 L824.7,712.6 L825.0,714.0 L825.2,715.6 L825.5,717.2 L825.7,719.0 L826.0,720.8 L826.2,722.7 L826.5,724.6 L826.7,726.5 L827.0,728.5 L827.2,730.5 L827.5,732.4 L827.7,734.3 L828.0,736.2 L828.2,738.0 L828.5,739.8 L828.7,741.4 L829.0,743.0 L829.2,744.4 L829.5,745.7 L829.7,746.9 L830.0,748.0 L830.2,748.9 L830.5,749.6 L830.7,750.2 L831.0,750.7 L831.2,750.9 L831.5,751.0 L831.7,750.9 L832.0,750.7 L832.2,750.3 L832.5,749.7 L832.7,749.1 L833.0,748.2 L833.2,747.2 L833.5,746.1 L833.7,744.9 L834.0,743.6 L834.2,742.2 L834.5,740.7 L834.7,739.1 L835.0,737.4 L835.2,735.7 L835.5,734.0 L835.7,732.2 L836.0,730.5 L836.2,728.7 L836.5,727.0 L836.7,725.3 L837.0,723.6 L837.2,722.0 L837.5,720.5 L837.7,719.1 L838.0,717.8 L838.2,716.6 L838.5,715.5 L838.7,714.5 L839.0,713.6 L839.2,713.0 L839.5,712.4 L839.7,712.0 L840.0,711.8 L840.2,711.7 L840.5,711.8 L840.8,712.3 L841.0,713.0 L841.3,714.0 L841.5,715.3 L841.8,716.8 L842.1,718.4 L842.3,720.3 L842.6,722.3 L842.8,724.5 L843.1,726.7 L843.4,729.0 L843.6,731.2 L843.9,733.4 L844.1,735.6 L844.4,737.6 L844.6,739.5 L844.9,741.1 L845.2,742.6 L845.4,743.9 L845.7,744.9 L845.9,745.6 L846.2,746.1 L846.5,746.2 L846.7,746.1 L847.0,745.6 L847.2,744.9 L847.5,744.0 L847.7,742.7 L848.0,741.3 L848.2,739.6 L848.5,737.8 L848.7,735.9 L849.0,733.8 L849.2,731.6 L849.5,729.5 L849.8,727.3 L850.0,725.1 L850.3,723.0 L850.5,721.1 L850.8,719.3 L851.0,717.6 L851.3,716.2 L851.5,714.9 L851.8,714.0 L852.0,713.3 L852.3,712.8 L852.6,712.7 L852.8,712.8 L853.1,713.2 L853.3,713.8 L853.6,714.7 L853.8,715.8 L854.1,717.0 L854.4,718.5 L854.6,720.1 L854.9,721.8 L855.1,723.5 L855.4,725.3 L855.7,727.1 L855.9,728.8 L856.2,730.5 L856.4,732.1 L856.7,733.6 L857.0,734.8 L857.2,735.9 L857.5,736.8 L857.7,737.4 L858.0,737.8 L858.2,737.9 L858.5,737.5 L858.8,736.3 L859.0,734.4 L859.3,731.9 L859.5,728.9 L859.8,725.8 L860.1,722.7 L860.3,719.8 L860.6,717.2 L860.8,715.3 L861.1,714.1 L861.4,713.7 L861.6,713.8 L861.9,714.1 L862.1,714.7 L862.4,715.4 L862.7,716.3 L862.9,717.4 L863.2,718.6 L863.4,719.8 L863.7,721.2 L864.0,722.6 L864.2,724.0 L864.5,725.4 L864.7,726.6 L865.0,727.8 L865.2,728.9 L865.5,729.8 L865.8,730.5 L866.0,731.1 L866.3,731.4 L866.6,731.5 L866.8,731.3 L867.1,730.7 L867.3,729.7 L867.6,728.4 L867.9,726.8 L868.1,725.0 L868.4,723.0 L868.6,721.1 L868.9,719.1 L869.2,717.3 L869.4,715.7 L869.7,714.4 L869.9,713.4 L870.2,712.8 L870.5,712.6 L870.7,712.9 L871.0,713.6 L871.2,714.9 L871.5,716.5 L871.7,718.6 L872.0,720.9 L872.2,723.4 L872.5,726.0 L872.8,728.7 L873.0,731.2 L873.3,733.5 L873.5,735.6 L873.8,737.2 L874.0,738.5 L874.3,739.2 L874.6,739.5 L874.8,738.0 L875.1,733.8 L875.4,728.0 L875.7,722.2 L876.0,718.0 L876.2,716.5 L876.5,717.6 L876.8,720.6 L877.1,724.8 L877.4,728.9 L877.6,731.9 L877.9,733.0 L878.2,731.9 L878.5,728.9 L878.8,724.8 L879.1,720.6 L879.3,717.6 L879.6,716.5 L879.9,717.6 L880.2,720.6 L880.5,724.8 L880.7,728.9 L881.0,731.9 L881.3,733.0 L881.6,731.9 L881.9,728.9 L882.2,724.8 L882.4,720.6 L882.7,717.6 L883.0,716.5 L883.3,717.6 L883.6,720.6 L883.8,724.8 L884.1,728.9 L884.4,731.9 L884.7,733.0 L885.0,731.9 L885.3,728.9 L885.5,724.8 L885.8,720.6 L886.1,717.6 L886.4,716.5 L886.7,717.6 L886.9,720.6 L887.2,724.8 L887.5,728.9 L887.8,731.9 L888.1,733.0 L888.4,731.9 L888.6,728.9 L888.9,724.8 L889.2,720.6 L889.5,717.6 L889.8,716.5 L890.0,717.6 L890.3,720.6 L890.6,724.8 L890.9,728.9 L891.2,731.9 L891.5,733.0 L891.7,731.9 L892.0,728.9 L892.3,724.8 L892.6,720.6 L892.9,717.6 L893.1,716.5 L893.4,717.6 L893.7,720.6 L894.0,724.8 L894.3,728.9 L894.5,731.9 L894.8,733.0 L895.1,731.9 L895.4,728.9 L895.7,724.8 L896.0,720.6 L896.2,717.6 L896.5,716.5 L896.8,717.6 L897.1,720.6 L897.4,724.8 L897.6,728.9 L897.9,731.9 L898.2,733.0 L898.5,731.9 L898.8,728.9 L899.1,724.8 L899.3,720.6 L899.6,717.6 L899.9,716.5 L900.2,717.6 L900.5,720.6 L900.7,724.8 L901.0,728.9 L901.3,731.9 L901.6,733.0 L901.9,731.9 L902.2,728.9 L902.4,724.8 L902.7,720.6 L903.0,717.6 L903.3,716.5 L903.6,717.6 L903.8,720.6 L904.1,724.8 L904.4,728.9 L904.7,731.9 L905.0,733.0 L905.3,731.9 L905.5,728.9 L905.8,724.8 L906.1,720.6 L906.4,717.6 L906.7,716.5 L906.9,718.0 L907.2,722.2 L907.5,728.0 L907.8,733.8 L908.1,738.0 L908.4,739.5 L908.6,739.2 L908.9,738.5 L909.1,737.2 L909.4,735.6 L909.6,733.5 L909.9,731.2 L910.1,728.7 L910.4,726.1 L910.7,723.4 L910.9,720.9 L911.2,718.6 L911.4,716.5 L911.7,714.9 L911.9,713.6 L912.2,712.9 L912.5,712.6 L912.7,712.8 L913.0,713.4 L913.2,714.4 L913.5,715.7 L913.8,717.3 L914.0,719.1 L914.3,721.1 L914.5,723.0 L914.8,725.0 L915.1,726.8 L915.3,728.4 L915.6,729.7 L915.8,730.7 L916.1,731.3 L916.4,731.5 L916.6,731.4 L916.9,731.1 L917.1,730.5 L917.4,729.8 L917.7,728.9 L917.9,727.8 L918.2,726.6 L918.4,725.4 L918.7,724.0 L919.0,722.6 L919.2,721.2 L919.5,719.8 L919.7,718.6 L920.0,717.4 L920.2,716.3 L920.5,715.4 L920.8,714.7 L921.0,714.1 L921.3,713.8 L921.6,713.7 L921.8,714.1 L922.1,715.3 L922.3,717.2 L922.6,719.8 L922.8,722.7 L923.1,725.8 L923.4,728.9 L923.6,731.9 L923.9,734.4 L924.1,736.3 L924.4,737.5 L924.7,737.9 L924.9,737.8 L925.2,737.4 L925.4,736.8 L925.7,735.9 L925.9,734.8 L926.2,733.6 L926.5,732.1 L926.7,730.5 L927.0,728.8 L927.2,727.1 L927.5,725.3 L927.8,723.5 L928.0,721.8 L928.3,720.1 L928.5,718.5 L928.8,717.0 L929.1,715.8 L929.3,714.7 L929.6,713.8 L929.8,713.2 L930.1,712.8 L930.4,712.7 L930.6,712.8 L930.9,713.3 L931.1,714.0 L931.4,714.9 L931.6,716.2 L931.9,717.6 L932.1,719.3 L932.4,721.1 L932.6,723.0 L932.9,725.1 L933.1,727.3 L933.4,729.5 L933.7,731.6 L933.9,733.8 L934.2,735.9 L934.4,737.8 L934.7,739.6 L934.9,741.3 L935.2,742.7 L935.4,744.0 L935.7,744.9 L935.9,745.6 L936.2,746.1 L936.5,746.2 L936.7,746.1 L937.0,745.6 L937.2,744.9 L937.5,743.9 L937.7,742.6 L938.0,741.1 L938.3,739.5 L938.5,737.6 L938.8,735.6 L939.0,733.4 L939.3,731.2 L939.6,729.0 L939.8,726.7 L940.1,724.5 L940.3,722.3 L940.6,720.3 L940.8,718.4 L941.1,716.8 L941.4,715.3 L941.6,714.0 L941.9,713.0 L942.1,712.3 L942.4,711.8 L942.7,711.7 L942.9,711.8 L943.2,712.0 L943.4,712.4 L943.7,713.0 L943.9,713.6 L944.2,714.5 L944.4,715.5 L944.7,716.6 L944.9,717.8 L945.2,719.1 L945.4,720.5 L945.7,722.0 L945.9,723.6 L946.2,725.3 L946.4,727.0 L946.7,728.7 L946.9,730.5 L947.2,732.2 L947.4,734.0 L947.7,735.7 L947.9,737.4 L948.2,739.1 L948.4,740.7 L948.7,742.2 L948.9,743.6 L949.2,744.9 L949.4,746.1 L949.7,747.2 L949.9,748.2 L950.2,749.1 L950.4,749.7 L950.7,750.3 L950.9,750.7 L951.2,750.9 L951.5,751.0 L951.7,750.9 L952.0,750.7 L952.2,750.2 L952.5,749.6 L952.7,748.9 L953.0,748.0 L953.2,746.9 L953.5,745.7 L953.7,744.4 L954.0,743.0 L954.2,741.4 L954.5,739.8 L954.7,738.0 L955.0,736.2 L955.2,734.3 L955.5,732.4 L955.7,730.5 L956.0,728.5 L956.2,726.5 L956.5,724.6 L956.7,722.7 L957.0,720.8 L957.2,719.0 L957.5,717.2 L957.7,715.6 L958.0,714.0 L958.2,712.6 L958.5,711.3 L958.7,710.1 L959.0,709.0 L959.2,708.1 L959.5,707.4 L959.7,706.8 L960.0,706.3 L960.2,706.1 L960.5,706.0 L961.0,706.1 L961.5,706.2 L962.0,706.5 L962.5,706.8 L963.0,707.2 L963.5,707.7 L964.0,708.6 L964.5,710.1 L965.0,711.9 L965.5,713.9 L966.0,715.8 L966.5,717.8 L967.0,719.9 L967.5,722.3 L968.0,724.7 L968.5,727.2 L969.0,729.8 L969.5,732.4 L970.0,735.1 L970.5,738.2 L971.0,741.7 L971.5,745.8 L972.0,750.6 L972.5,755.9 L973.0,761.5 L973.5,767.5 L974.0,774.2 L974.5,781.6 L975.0,789.4 L975.5,797.2 L976.0,804.7 L976.5,811.7 L977.0,818.6 L977.5,825.4 L978.0,832.1 L978.5,838.8 L979.0,845.4 L979.5,852.0 L980.0,858.7 L980.5,865.3 L981.0,871.9 L981.5,878.4 L982.0,885.0 L982.5,891.5 L983.0,898.1 L983.5,904.7 L984.0,911.4 L984.5,918.5 L985.0,925.8 L985.5,933.1 L986.0,940.3 L986.5,947.1 L987.0,953.3 L987.5,958.8 L988.0,963.6 L988.5,968.3 L989.0,972.7 L989.5,976.9 L990.0,980.9 L990.5,984.6 L991.0,988.1 L991.5,991.4 L992.0,994.3 L992.5,997.0 L993.0,999.5 L993.5,1001.9 L994.0,1004.1 L994.5,1006.3 L995.0,1008.3 L995.5,1010.3 L996.0,1012.1 L996.5,1013.8 L997.0,1015.5 L997.5,1017.0 L998.0,1018.4 L998.5,1019.6 L999.0,1020.8 L999.5,1021.9 L1000.0,1022.9 L1000.5,1023.9 L1001.0,1024.9 L1001.5,1025.8 L1002.0,1026.7 L1002.5,1027.6 L1003.0,1028.4 L1003.5,1029.2 L1004.0,1029.9 L1004.5,1030.7 L1005.0,1031.4 L1005.5,1032.0 L1006.0,1032.7 L1006.5,1033.3 L1007.0,1033.9 L1007.5,1034.4 L1008.0,1034.9 L1008.5,1035.4 L1009.0,1035.9 L1009.5,1036.3 L1010.0,1036.8 L1010.5,1037.2 L1011.0,1037.6 L1011.5,1038.0 L1012.0,1038.4 L1012.5,1038.8 L1013.0,1039.2 L1013.5,1039.5 L1014.0,1039.9 L1014.5,1040.2 L1015.0,1040.6 L1015.5,1040.9 L1016.0,1041.2 L1016.5,1041.5 L1017.0,1041.8 L1017.5,1042.1 L1018.0,1042.3 L1018.5,1042.6 L1019.0,1042.8 L1019.5,1043.0 L1020.0,1043.2 L1020.5,1043.4 L1021.0,1043.6 L1021.5,1043.7 L1022.0,1043.9 L1022.5,1044.0 L1023.0,1044.1 L1023.5,1044.2 L1024.0,1044.3 L1024.5,1044.4 L1025.0,1044.6 L1025.5,1044.7 L1026.0,1044.8 L1026.5,1044.9 L1027.0,1045.0 L1027.5,1045.1 L1028.0,1045.2 L1028.5,1045.2 L1029.0,1045.3 L1029.5,1045.4 L1030.0,1045.5 L1030.5,1045.6 L1031.0,1045.7 L1031.5,1045.7 L1032.0,1045.8 L1032.5,1045.9 L1033.0,1045.9 L1033.5,1046.0 L1034.0,1046.1 L1034.5,1046.1 L1035.0,1046.2 L1035.5,1046.2 L1036.0,1046.3 L1036.5,1046.3 L1037.0,1046.3 L1037.5,1046.4 L1038.0,1046.4 L1038.5,1046.4 L1039.0,1046.5 L1039.5,1046.5 L1040.0,1046.5 L1040.5,1046.5 L1041.0,1046.5 L1041.5,1046.5 L1042.0,1046.6 L1042.5,1046.6 L1043.0,1046.6 L1043.5,1046.6 L1044.0,1046.6 L1044.5,1046.6 L1045.0,1046.6 L1045.5,1046.7 L1046.0,1046.7 L1046.5,1046.7 L1047.0,1046.7 L1047.5,1046.7 L1048.0,1046.7 L1048.5,1046.7 L1049.0,1046.8 L1049.5,1046.8 L1050.0,1046.8 L1050.5,1046.8 L1051.0,1046.8 L1051.5,1046.8 L1052.0,1046.8 L1052.5,1046.8 L1053.0,1046.8 L1053.5,1046.9 L1054.0,1046.9 L1054.5,1046.9 L1055.0,1046.9 L1055.5,1046.9 L1056.0,1046.9 L1056.5,1046.9 L1057.0,1046.9 L1057.5,1046.9 L1058.0,1047.0 L1058.5,1047.0 L1059.0,1047.0 L1059.5,1047.0 L1060.0,1047.0 L1060.5,1047.0 L1061.0,1047.0 L1061.5,1047.0 L1062.0,1047.0 L1062.5,1047.0 L1063.0,1047.0 L1063.5,1047.0 L1064.0,1047.1 L1064.5,1047.1 L1065.0,1047.1 L1065.5,1047.1 L1066.0,1047.1 L1066.5,1047.1 L1067.0,1047.1 L1067.5,1047.1 L1068.0,1047.1 L1068.5,1047.1 L1069.0,1047.1 L1069.5,1047.1 L1070.0,1047.1 L1070.5,1047.2 L1071.0,1047.2 L1071.5,1047.2 L1072.0,1047.2 L1072.5,1047.2 L1073.0,1047.2 L1073.5,1047.2 L1074.0,1047.2 L1074.5,1047.2 L1075.0,1047.2 L1075.5,1047.2 L1076.0,1047.2 L1076.5,1047.2 L1077.0,1047.2 L1077.5,1047.2 L1078.0,1047.2 L1078.5,1047.2 L1079.0,1047.2 L1079.5,1047.3 L1080.0,1047.3 L1080.5,1047.3 L1081.0,1047.3 L1081.5,1047.3 L1082.0,1047.3 L1082.5,1047.3 L1083.0,1047.3 L1083.5,1047.3 L1084.0,1047.3 L1084.5,1047.3 L1085.0,1047.3 L1085.5,1047.3 L1086.0,1047.3 L1086.5,1047.3 L1087.0,1047.3 L1087.5,1047.3 L1088.0,1047.3 L1088.5,1047.3 L1089.0,1047.3 L1089.5,1047.3 L1090.0,1047.3 L1090.5,1047.3 L1091.0,1047.3 L1091.5,1047.3 L1092.0,1047.3 L1092.5,1047.4 L1093.0,1047.4 L1093.5,1047.4 L1094.0,1047.4 L1094.5,1047.4 L1095.0,1047.4 L1095.5,1047.4 L1096.0,1047.4 L1096.5,1047.4 L1097.0,1047.4 L1097.5,1047.4 L1098.0,1047.4 L1098.5,1047.4 L1099.0,1047.4 L1099.5,1047.4 L1100.0,1047.4 L1100.5,1047.4 L1101.0,1047.4 L1101.5,1047.4 L1102.0,1047.4 L1102.5,1047.4 L1103.0,1047.4 L1103.5,1047.4 L1104.0,1047.4 L1104.5,1047.4 L1105.0,1047.4 L1105.5,1047.4 L1106.0,1047.4 L1106.5,1047.4 L1107.0,1047.4 L1107.5,1047.4 L1108.0,1047.4 L1108.5,1047.4 L1109.0,1047.5 L1109.5,1047.5 L1110.0,1047.5 L1110.5,1047.5 L1111.0,1047.5 L1111.5,1047.5 L1112.0,1047.5 L1112.5,1047.5 L1113.0,1047.5 L1113.5,1047.5 L1114.0,1047.5 L1114.5,1047.5 L1115.0,1047.5 L1115.5,1047.5 L1116.0,1047.5 L1116.5,1047.5 L1117.0,1047.5 L1117.5,1047.5 L1118.0,1047.5 L1118.5,1047.5 L1119.0,1047.5 L1119.5,1047.5 L1120.0,1047.5 L1120.5,1047.5 L1121.0,1047.5 L1121.5,1047.5 L1122.0,1047.5 L1122.5,1047.5 L1123.0,1047.5 L1123.5,1047.5 L1124.0,1047.5 L1124.5,1047.5 L1125.0,1047.5 L1125.5,1047.5 L1126.0,1047.5 L1126.5,1047.5 L1127.0,1047.5 L1127.5,1047.6 L1128.0,1047.6 L1128.5,1047.6 L1129.0,1047.6 L1129.5,1047.6 L1130.0,1047.6 L1130.5,1047.6 L1131.0,1047.6 L1131.5,1047.6 L1132.0,1047.6 L1132.5,1047.6 L1133.0,1047.6 L1133.5,1047.6 L1134.0,1047.6 L1134.5,1047.6 L1135.0,1047.6 L1135.5,1047.6 L1136.0,1047.6 L1136.5,1047.6 L1137.0,1047.6 L1137.5,1047.6 L1138.0,1047.6 L1138.5,1047.6 L1139.0,1047.6 L1139.5,1047.6 L1140.0,1047.6 L1140.5,1047.6 L1141.0,1047.6 L1141.5,1047.6 L1142.0,1047.6 L1142.5,1047.6 L1143.0,1047.6 L1143.5,1047.6 L1144.0,1047.6 L1144.5,1047.6 L1145.0,1047.6 L1145.5,1047.6 L1146.0,1047.6 L1146.5,1047.6 L1147.0,1047.6 L1147.5,1047.6 L1148.0,1047.6 L1148.5,1047.6 L1149.0,1047.6 L1149.5,1047.7 L1150.0,1047.7 L1150.5,1047.7 L1151.0,1047.7 L1151.5,1047.7 L1152.0,1047.7 L1152.5,1047.7 L1153.0,1047.7 L1153.5,1047.7 L1154.0,1047.7 L1154.5,1047.7 L1155.0,1047.7 L1155.5,1047.7 L1156.0,1047.7 L1156.5,1047.7 L1157.0,1047.7 L1157.5,1047.7 L1158.0,1047.7 L1158.5,1047.7 L1159.0,1047.7 L1159.5,1047.7 L1160.0,1047.7 L1160.5,1047.7 L1161.0,1047.7 L1161.5,1047.7 L1162.0,1047.7 L1162.5,1047.7 L1163.0,1047.7 L1163.5,1047.7 L1164.0,1047.7 L1164.5,1047.7 L1165.0,1047.7 L1165.5,1047.7 L1166.0,1047.7 L1166.5,1047.7 L1167.0,1047.7 L1167.5,1047.7 L1168.0,1047.7 L1168.5,1047.7 L1169.0,1047.7 L1169.5,1047.7 L1170.0,1047.7 L1170.5,1047.7 L1171.0,1047.7 L1171.5,1047.7 L1172.0,1047.7 L1172.5,1047.7 L1173.0,1047.7 L1173.5,1047.7 L1174.0,1047.7 L1174.5,1047.7 L1175.0,1047.7 L1175.5,1047.7 L1176.0,1047.7 L1176.5,1047.7 L1177.0,1047.7 L1177.5,1047.7 L1178.0,1047.7 L1178.5,1047.7 L1179.0,1047.7 L1179.5,1047.7 L1180.0,1047.8 L1180.5,1047.8 L1181.0,1047.8 L1181.5,1047.8 L1182.0,1047.8 L1182.5,1047.8 L1183.0,1047.8 L1183.5,1047.8 L1184.0,1047.8 L1184.5,1047.8 L1185.0,1047.8 L1185.5,1047.8 L1186.0,1047.8 L1186.5,1047.8 L1187.0,1047.8 L1187.5,1047.8 L1188.0,1047.8 L1188.5,1047.8 L1189.0,1047.8 L1189.5,1047.8 L1190.0,1047.8 L1190.5,1047.8 L1191.0,1047.8 L1191.5,1047.8 L1192.0,1047.8 L1192.5,1047.8 L1193.0,1047.8 L1193.5,1047.8 L1194.0,1047.8 L1194.5,1047.8 L1195.0,1047.8 L1195.5,1047.8 L1196.0,1047.8 L1196.5,1047.8 L1197.0,1047.8 L1197.5,1047.8 L1198.0,1047.8 L1198.5,1047.8 L1199.0,1047.8 L1199.5,1047.8 L1200.0,1047.8 L1200.5,1047.8 L1201.0,1047.8 L1201.5,1047.8 L1202.0,1047.8 L1202.5,1047.8 L1203.0,1047.8 L1203.5,1047.8 L1204.0,1047.8 L1204.5,1047.8 L1205.0,1047.8 L1205.5,1047.8 L1206.0,1047.8 L1206.5,1047.8 L1207.0,1047.8 L1207.5,1047.8 L1208.0,1047.8 L1208.5,1047.8 L1209.0,1047.8 L1209.5,1047.8 L1210.0,1047.8 L1210.5,1047.8 L1211.0,1047.8 L1211.5,1047.8 L1212.0,1047.8 L1212.5,1047.8 L1213.0,1047.8 L1213.5,1047.8 L1214.0,1047.8 L1214.5,1047.8 L1215.0,1047.8 L1215.5,1047.8 L1216.0,1047.8 L1216.5,1047.8 L1217.0,1047.8 L1217.5,1047.8 L1218.0,1047.8 L1218.3,1047.8" stroke="#00BFF0"/>
</g>
<g fill="#262626" font-size="45" text-anchor="middle">
<text x="501.4" y="1113.4">1545</text>
<text x="680.8" y="1113.4">1550</text>
<text x="860.2" y="1113.4">1555</text>
<text x="1039.7" y="1113.4">1560</text>
<text x="1219.1" y="1113.4">1565</text>
</g>
<g fill="#262626" font-size="45" text-anchor="end">
<text x="482.0" y="1066.6">0</text>
<text x="482.0" y="867.4">0.5</text>
<text x="482.0" y="668.3">1</text>
</g>
<text x="860.0" y="1178.7" fill="#262626" font-size="49.7" text-anchor="middle">Wavelength [nm]</text>
<text transform="translate(394.1,849.9) rotate(-90)" fill="#262626" font-size="49.7" text-anchor="middle">Reflected signal</text>
</svg>
</body></html>
